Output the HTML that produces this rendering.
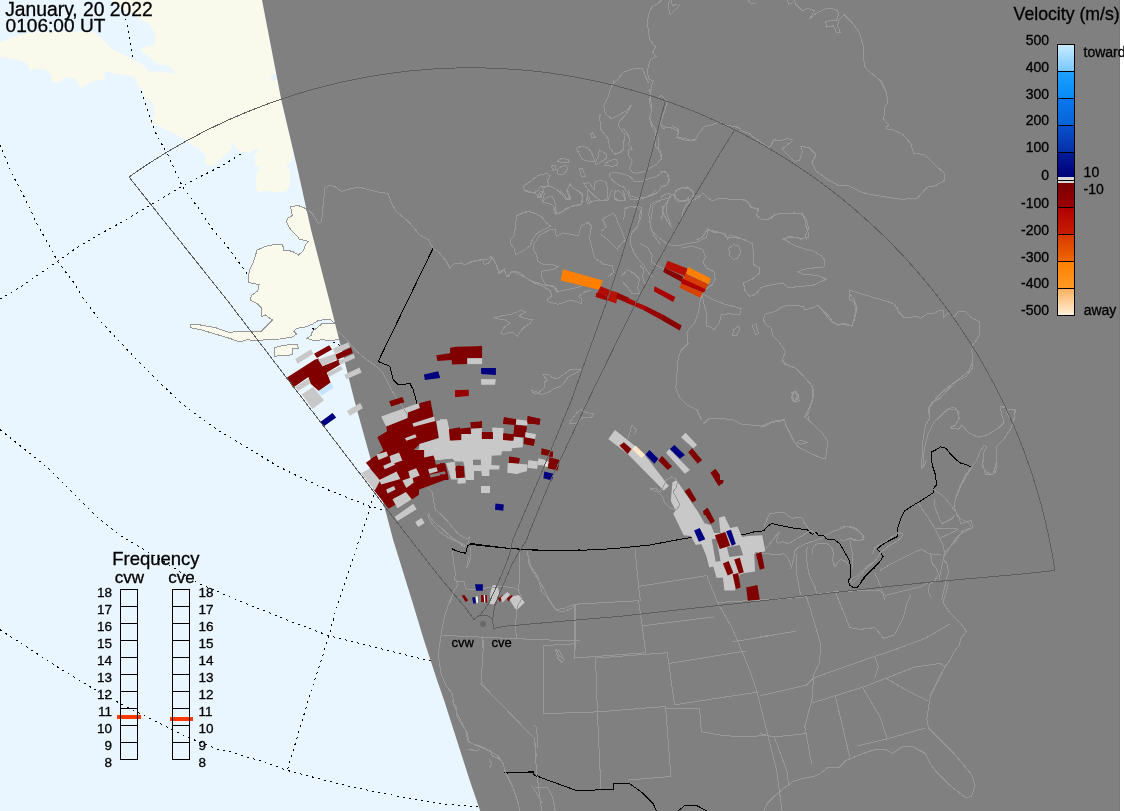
<!DOCTYPE html>
<html><head><meta charset="utf-8"><title>SuperDARN</title>
<style>
html,body{margin:0;padding:0;background:#eaf6ff;}
body{width:1124px;height:811px;overflow:hidden;}
svg{display:block;will-change:transform;}
text{font-family:'Liberation Sans',Arial,Helvetica,sans-serif;stroke:#000;stroke-width:0.3px;paint-order:stroke;}
</style></head><body>
<svg width="1124" height="811" viewBox="0 0 1124 811">
<rect x="0" y="0" width="1124" height="811" fill="#eaf6ff"/>
<polyline points="125.8,18.5 132.7,58.0 140.7,88.2 143.8,100.0 155.4,132.5 167.7,154.7 182.5,186.7 197.3,206.5 212.1,228.7 226.9,245.9 246.7,273.1 280.0,302.0 311.5,327.7 333.3,342.2 345.0,348.0" fill="none" stroke="#000" stroke-width="1" stroke-dasharray="2,4.2" shape-rendering="crispEdges"/>
<polyline points="0.0,299.0 24.7,284.2 49.3,266.9 74.0,249.6 98.7,234.8 123.3,221.3 148.0,206.5 172.7,191.7 197.3,178.1 222.0,165.8 241.7,153.4 262.0,142.0" fill="none" stroke="#000" stroke-width="1" stroke-dasharray="2,4.2" shape-rendering="crispEdges"/>
<polyline points="0.0,144.8 12.3,174.4 24.7,197.8 37.0,223.7 49.3,245.9 58.0,262.0 74.0,282.9 82.6,297.4 102.0,323.0 119.7,341.7 139.4,362.4 159.2,382.1 178.9,400.9 198.6,416.6 218.3,430.5 238.0,442.3 257.8,454.1 277.5,466.0 297.2,475.8 325.8,488.9 346.8,497.3 367.7,505.7 386.0,510.5" fill="none" stroke="#000" stroke-width="1" stroke-dasharray="2,4.2" shape-rendering="crispEdges"/>
<polyline points="0.0,429.6 24.1,448.9 48.2,468.2 72.3,492.3 96.4,516.4 120.5,535.7 144.6,550.1 168.7,564.6 195.0,581.7 216.7,591.0 230.0,597.1 260.9,609.5 291.9,621.9 329.0,635.8 353.8,642.0 384.7,649.7 415.6,657.5 433.0,661.0" fill="none" stroke="#000" stroke-width="1" stroke-dasharray="2,4.2" shape-rendering="crispEdges"/>
<polyline points="0.0,629.7 31.0,649.8 61.9,669.9 92.9,688.5 123.8,705.5 154.8,721.0 185.8,736.5 216.7,748.9 230.0,751.8 260.9,761.1 287.2,770.4 322.8,779.7 353.8,787.4 384.7,793.6 415.6,799.8 446.6,804.4 480.0,806.8" fill="none" stroke="#000" stroke-width="1" stroke-dasharray="2,4.2" shape-rendering="crispEdges"/>
<polyline points="378.0,483.0 374.0,495.2 363.5,527.7 352.2,560.0 344.5,584.8 335.2,612.6 329.0,635.8 319.7,665.2 310.4,693.0 301.2,724.0 287.2,770.4" fill="none" stroke="#000" stroke-width="1" stroke-dasharray="2,4.2" shape-rendering="crispEdges"/>
<polygon points="0.0,42.2 12.3,37.3 24.7,33.6 37.0,32.3 74.0,31.7 92.5,31.7 98.6,36.0 112.3,49.3 124.7,55.5 134.5,60.4 143.0,65.0 149.0,71.5 155.5,71.5 169.0,72.7 175.0,73.4 172.7,69.0 166.6,64.7 159.0,65.0 151.8,59.0 142.0,51.8 140.7,49.3 147.0,45.6 154.0,45.0 155.5,39.5 154.0,32.0 149.0,23.4 137.0,17.0 125.0,10.0 111.0,0.0 262.0,0.0 281.3,100.0 292.5,147.2 293.0,157.0 290.0,163.0 286.0,165.0 290.0,171.0 290.0,184.7 286.0,191.6 278.0,192.6 268.2,190.6 258.4,192.6 255.4,186.7 256.4,174.8 259.4,168.0 255.4,165.0 254.4,155.0 259.4,148.2 254.4,149.2 248.5,152.7 240.6,151.2 234.7,147.2 233.7,142.3 230.7,143.3 231.7,149.0 226.8,153.0 219.0,161.0 213.0,166.0 206.0,165.0 205.0,155.0 199.2,149.2 191.3,144.3 183.4,138.3 167.6,130.4 155.8,124.5 150.8,124.5 151.8,121.6 154.8,113.7 153.8,105.8 149.9,99.9 145.6,100.0 144.4,96.0 142.0,88.8 137.0,85.0 137.0,81.4 133.3,76.4 118.5,74.0 107.4,71.5 103.7,72.7 105.0,79.0 100.0,80.4 96.0,80.4 88.8,83.5 81.4,87.8 77.7,84.0 77.7,80.4 71.5,77.3 64.0,78.0 58.0,83.5 51.8,80.4 51.8,75.5 45.6,69.3 37.0,68.7 29.6,70.6 28.4,65.6 24.7,62.0 12.3,58.8 0.0,56.4" fill="#fafaec"/>
<ellipse cx="274" cy="77.5" rx="3" ry="3.5" fill="#eaf6ff"/>
<polygon points="290.5,206.6 298.4,205.6 306.0,208.6 318.0,230.0 338.0,300.0 342.0,322.7 333.7,322.7 330.9,319.9 326.6,319.2 318.0,320.6 312.4,324.2 305.3,327.0 296.7,328.4 293.9,331.3 296.7,334.0 292.5,337.0 279.6,339.0 265.4,339.8 258.3,340.5 246.9,339.8 239.8,342.0 229.8,338.4 215.6,334.1 201.4,329.9 190.0,327.7 190.7,324.2 199.9,324.9 215.6,327.7 229.8,332.7 237.0,331.3 248.3,331.3 261.1,331.3 265.4,327.0 272.5,320.0 265.4,315.0 261.9,316.3 261.9,308.5 256.9,303.5 250.5,300.0 251.2,295.7 253.0,294.4 258.0,290.5 259.0,284.6 249.0,282.6 248.0,276.7 250.0,268.8 253.0,262.9 255.0,257.0 257.0,250.0 266.8,246.0 276.7,244.0 282.6,244.0 283.6,250.0 287.5,250.0 293.4,252.0 298.4,255.0 303.3,251.0 305.3,245.0 308.2,241.2 299.4,239.2 296.4,235.2 290.5,229.3 286.5,222.4 287.5,218.5 292.4,215.5" fill="#fafaec" stroke="#989898" stroke-width="1" shape-rendering="crispEdges"/>
<polygon points="342.0,323.5 330.9,323.5 322.3,323.5 318.0,327.0 312.4,331.3 311.0,335.5 306.7,338.4 313.8,340.5 322.3,339.8 332.3,340.5 338.0,339.5 344.0,339.0" fill="#fafaec" stroke="#989898" stroke-width="1" shape-rendering="crispEdges"/>
<polygon points="274.7,347.7 279.6,346.2 288.2,344.8 297.4,344.1 298.2,348.4 292.5,349.0 292.5,354.8 282.5,355.5 274.7,356.2" fill="#fafaec" stroke="#989898" stroke-width="1" shape-rendering="crispEdges"/>
<polygon points="262.0,0.0 281.3,100.0 297.8,170.0 304.4,200.0 311.1,230.0 329.2,300.0 354.3,400.0 368.1,450.0 385.0,508.9 393.2,540.0 411.8,600.0 423.9,640.0 437.0,680.0 444.0,700.0 456.8,740.0 469.6,780.0 480.2,811.0 1124.0,811.0 1124.0,0.0" fill="#808080"/>
<polyline points="433.1,248.2 378.2,361.4 389.9,366.4 393.2,379.7 398.2,384.7 403.2,384.7 409.8,383.1 413.2,389.7 416.5,401.4 418.2,409.7" fill="none" stroke="#000000" stroke-width="1" stroke-linejoin="round" shape-rendering="crispEdges"/>
<polyline points="470.0,543.3 487.9,545.8 505.9,548.0 523.8,549.4 545.3,550.9 577.6,550.5 613.5,548.7 649.4,545.1 678.1,539.7 688.8,537.9" fill="none" stroke="#000000" stroke-width="1" stroke-linejoin="round" shape-rendering="crispEdges"/>
<polyline points="504.1,772.9 532.8,772.9 534.6,775.4 577.6,790.9 613.5,789.1 613.5,783.7 629.6,783.7 642.2,792.6 653.0,803.4 656.5,810.9" fill="none" stroke="#000000" stroke-width="1" stroke-linejoin="round" shape-rendering="crispEdges"/>
<polyline points="678.1,810.9 685.2,805.2 696.0,805.2 706.8,810.9" fill="none" stroke="#000000" stroke-width="1" stroke-linejoin="round" shape-rendering="crispEdges"/>
<polyline points="452.1,548.8 456.6,551.0 459.9,552.1 465.5,553.2 466.6,549.9 467.7,545.5 471.0,544.4 479.9,545.5 491.0,546.6 502.1,547.7 513.2,548.8 535.4,549.9 557.6,551.0 580.0,549.9" fill="none" stroke="#000000" stroke-width="1" stroke-linejoin="round" shape-rendering="crispEdges"/>
<polyline points="504.8,773.2 515.8,772.5 533.5,771.8 534.2,774.6 540.0,776.6" fill="none" stroke="#000000" stroke-width="1" stroke-linejoin="round" shape-rendering="crispEdges"/>
<polyline points="688.8,537.9 746.0,534.0 755.0,531.6" fill="none" stroke="#000000" stroke-width="1" stroke-linejoin="round" shape-rendering="crispEdges"/>
<polyline points="755.0,531.6 759.4,531.6 763.9,530.5 767.2,526.6 771.7,523.3 778.3,525.0 783.9,526.1 791.6,527.8 799.4,528.9 807.2,529.4 809.4,532.2 812.7,534.4 814.4,532.2 816.6,532.8 818.8,536.1 821.6,535.5 824.4,536.1 825.5,538.3 828.3,539.4 834.9,540.0 839.4,543.3 843.8,550.5 849.4,560.5 850.5,567.2 851.0,573.8 849.9,578.3 848.3,580.5 849.4,584.9 852.7,587.1 856.6,587.1 859.4,584.9 862.7,579.4 866.0,574.9 870.5,570.5 875.0,567.7" fill="none" stroke="#000000" stroke-width="1" stroke-linejoin="round" shape-rendering="crispEdges"/>
<polyline points="857.3,587.4 862.4,580.8 867.6,573.9 874.5,567.0 879.7,561.8 883.1,556.7 879.7,551.5 877.1,548.9 881.4,545.4 888.3,541.1 897.0,536.8 897.0,532.5 897.8,527.3 899.5,522.1 901.3,517.0 904.7,510.9 912.5,505.7 921.1,500.6 928.0,496.2 933.2,492.8 934.1,487.6 936.7,485.0 935.8,479.0 935.8,474.7 934.1,470.4 932.3,465.2 931.5,460.0" fill="none" stroke="#000000" stroke-width="1" stroke-linejoin="round" shape-rendering="crispEdges"/>
<polyline points="935.0,474.0 932.3,465.8 931.0,452.3 936.4,449.6 940.5,446.8 945.9,448.2 950.0,453.6 955.4,459.1 960.8,463.1 966.2,464.5 971.7,467.2" fill="none" stroke="#000000" stroke-width="1" stroke-linejoin="round" shape-rendering="crispEdges"/>
<polygon points="314.0,353.7 329.2,345.2 332.0,349.5 316.9,358.1" fill="#800000"/>
<polygon points="287.0,377.4 315.1,359.4 318.8,358.5 322.5,366.3 339.1,359.4 339.9,364.8 326.9,372.6 330.6,382.6 318.8,391.1 310.6,383.7 308.4,377.0 295.1,386.3 292.9,387.4" fill="#800000"/>
<polygon points="335.1,354.8 351.0,347.4 352.8,353.0 336.9,360.0" fill="#800000"/>
<polygon points="295.1,358.9 311.0,349.3 313.2,354.1 297.7,363.7" fill="#c8c8c8"/>
<polygon points="332.9,348.5 348.4,342.6 350.2,347.0 335.1,354.1" fill="#c8c8c8"/>
<polygon points="318.0,359.6 335.1,353.7 336.9,358.9 322.5,366.3" fill="#c8c8c8"/>
<polygon points="338.4,360.7 353.6,353.7 355.1,358.1 340.3,364.8" fill="#c8c8c8"/>
<polygon points="326.6,372.9 341.0,365.9 342.8,369.6 328.8,377.0" fill="#c8c8c8"/>
<polygon points="344.3,374.8 359.5,367.4 361.7,372.6 346.5,379.2" fill="#c8c8c8"/>
<polygon points="295.1,387.0 308.4,378.5 310.6,383.3 298.1,391.1" fill="#c8c8c8"/>
<polygon points="318.4,391.1 331.4,382.9 333.6,387.4 321.7,395.5" fill="#c4e4fc"/>
<polygon points="301.8,394.3 313.2,386.9 324.0,400.2 312.5,409.1" fill="#c8c8c8"/>
<polygon points="320.3,422.0 332.5,413.1 336.2,417.6 324.3,426.1" fill="#000080"/>
<polygon points="346.9,410.9 360.2,403.1 362.8,408.3 349.9,415.7" fill="#c8c8c8"/>
<polygon points="389.1,401.2 402.4,397.0 404.4,402.2 391.1,406.6" fill="#800000"/>
<polygon points="386.1,426.4 407.8,418.0 407.3,412.5 419.7,408.1 419.2,403.2 430.5,400.2 433.5,416.5 435.9,421.4 438.9,437.7 420.2,444.1 411.3,452.0 399.4,460.0 374.8,460.0 370.8,458.9 384.2,452.0 377.3,437.2 387.1,431.3" fill="#800000"/>
<polygon points="455.2,390.8 460.0,389.9 460.0,396.8 455.2,396.8" fill="#800000"/>
<polygon points="449.3,429.3 460.0,427.3 460.0,440.2 450.7,440.7" fill="#800000"/>
<polygon points="381.2,416.5 418.2,403.2 419.7,408.1 407.8,412.5 407.3,418.0 386.1,426.4" fill="#c8c8c8"/>
<polygon points="412.3,423.4 434.0,416.5 435.4,420.9 413.7,426.8" fill="#c8c8c8"/>
<polygon points="404.9,438.2 415.2,434.2 416.7,437.2 406.4,440.7" fill="#c8c8c8"/>
<polygon points="436.4,420.9 446.8,419.3 449.3,429.3 450.7,440.7 460.0,440.2 460.0,460.0 423.1,460.0 423.1,456.9 411.3,453.0 419.2,449.0 419.2,444.1 438.9,438.2" fill="#c8c8c8"/>
<polygon points="365.9,462.8 383.7,450.0 424.1,450.0 424.1,457.4 433.5,455.4 435.9,462.8 444.8,462.8 446.8,469.7 447.8,474.2 448.8,478.6 419.2,489.4 418.7,494.9 412.3,499.3 394.5,505.2 388.6,508.7 373.8,489.9 369.9,467.8" fill="#800000"/>
<polygon points="376.3,454.4 386.6,451.5 388.1,455.9 378.7,459.9" fill="#c8c8c8"/>
<polygon points="389.6,455.9 399.0,452.5 402.4,460.4 391.6,464.3" fill="#c8c8c8"/>
<polygon points="383.2,465.8 393.5,461.3 395.0,464.8 384.7,469.2" fill="#c8c8c8"/>
<polygon points="361.0,473.2 369.9,468.2 380.2,480.6 374.8,490.4" fill="#c8c8c8"/>
<polygon points="379.2,480.1 396.5,471.5 400.4,479.1 381.2,484.5" fill="#c8c8c8"/>
<polygon points="386.1,489.4 394.0,486.0 395.5,489.4 387.6,493.4" fill="#c8c8c8"/>
<polygon points="392.5,499.3 405.9,491.9 411.8,499.3 397.5,508.2" fill="#c8c8c8"/>
<polygon points="408.3,471.2 416.2,468.2 419.7,475.6 410.3,479.1" fill="#c8c8c8"/>
<polygon points="402.4,480.6 412.3,477.1 413.7,482.5 406.4,488.0" fill="#c8c8c8"/>
<polygon points="428.0,469.2 436.4,467.3 437.9,471.2 429.5,473.7" fill="#c8c8c8"/>
<polygon points="446.3,463.3 454.7,461.8 457.1,479.6 451.2,479.6" fill="#c8c8c8"/>
<polygon points="394.5,517.1 413.3,503.7 416.7,509.2 397.5,521.0" fill="#c8c8c8"/>
<polygon points="415.2,522.0 421.6,518.0 424.6,523.0 418.2,526.9" fill="#c8c8c8"/>
<polygon points="455.2,466.3 460.0,465.3 460.0,477.6 457.1,478.1" fill="#800000"/>
<polygon points="435.0,460.8 452.7,457.9 453.7,461.3 435.9,464.8" fill="#808080"/>
<polygon points="429.5,474.7 444.8,471.2 445.8,474.2 430.5,477.6" fill="#808080"/>
<polygon points="440.0,419.2 446.9,419.2 448.9,429.6 449.9,440.4 461.2,439.9 461.2,434.0 471.1,434.0 471.1,428.6 481.9,428.1 481.9,439.0 492.3,439.0 492.3,427.6 503.6,428.1 503.1,439.9 513.5,440.4 514.0,436.5 522.8,438.0 522.8,447.3 512.0,448.3 511.5,451.3 502.1,451.3 501.1,455.2 491.8,455.7 491.3,465.1 499.7,465.6 499.2,469.5 489.3,469.5 489.3,475.9 481.9,475.9 481.4,471.0 474.0,471.0 474.0,480.0 465.6,480.0 464.7,467.1 463.2,461.6 454.8,461.6 453.3,458.7 440.0,459.2" fill="#c8c8c8"/>
<polygon points="473.0,459.7 480.9,459.7 480.9,465.1 473.0,465.1" fill="#808080"/>
<polygon points="448.9,429.6 470.6,427.6 471.1,434.0 461.2,434.0 461.2,439.9 449.9,440.4" fill="#800000"/>
<polygon points="470.1,422.2 481.9,421.2 481.9,428.1 471.1,428.6" fill="#800000"/>
<polygon points="481.9,432.1 492.3,432.1 492.8,439.0 481.9,439.0" fill="#800000"/>
<polygon points="504.1,417.3 515.9,419.2 515.4,424.7 503.1,423.7" fill="#800000"/>
<polygon points="515.0,425.1 526.8,426.1 525.8,437.5 513.5,436.5" fill="#800000"/>
<polygon points="503.1,433.5 514.0,434.5 513.0,440.4 503.1,439.9" fill="#800000"/>
<polygon points="527.8,416.3 540.0,418.7 540.0,424.2 527.3,423.7" fill="#800000"/>
<polygon points="524.3,437.0 534.7,439.4 533.7,445.9 523.8,443.9" fill="#800000"/>
<polygon points="509.0,456.7 519.9,458.2 518.9,463.6 509.0,463.1" fill="#800000"/>
<polygon points="440.0,463.1 445.4,464.1 445.9,469.0 440.0,470.0" fill="#800000"/>
<polygon points="440.0,474.5 447.4,474.0 448.4,480.0 440.0,480.0" fill="#800000"/>
<polygon points="455.3,466.1 463.7,466.1 464.7,477.4 456.3,477.9" fill="#800000"/>
<polygon points="516.4,419.2 527.3,420.7 526.8,425.1 515.9,424.2" fill="#c8c8c8"/>
<polygon points="525.8,432.5 535.7,434.0 535.2,438.5 525.3,437.0" fill="#c8c8c8"/>
<polygon points="508.0,463.1 527.3,464.6 526.8,471.0 516.4,474.0 508.0,472.5" fill="#c8c8c8"/>
<polygon points="528.8,460.2 537.6,461.6 537.1,468.5 528.3,468.0" fill="#c8c8c8"/>
<polygon points="445.9,463.1 454.3,462.1 455.8,468.0 448.9,469.0" fill="#c8c8c8"/>
<polygon points="481.1,486.1 490.0,486.1 490.0,493.0 481.1,493.0" fill="#c8c8c8"/>
<polygon points="495.4,503.4 503.8,504.4 503.3,510.8 495.0,509.8" fill="#000080"/>
<polygon points="457.5,478.2 465.4,477.8 465.9,483.2 457.5,483.7" fill="#c8c8c8"/>
<polygon points="436.3,355.2 450.1,353.2 450.1,347.8 456.0,346.8 476.2,346.3 482.1,345.8 482.1,358.2 467.3,358.2 467.3,364.1 452.1,364.6 451.6,360.1 437.3,361.1" fill="#800000"/>
<polygon points="467.3,358.2 482.1,358.2 482.1,364.1 467.3,364.1" fill="#c8c8c8"/>
<polygon points="423.9,374.4 438.2,371.3 440.2,377.9 424.9,379.9" fill="#000080"/>
<polygon points="481.1,368.0 495.9,368.0 495.9,374.9 481.1,374.0" fill="#000080"/>
<polygon points="481.1,378.9 495.9,379.2 495.0,384.8 481.1,384.8" fill="#c8c8c8"/>
<polygon points="455.0,390.2 468.8,389.7 468.8,396.1 455.0,396.9" fill="#9a0000"/>
<polygon points="503.9,417.2 516.6,419.4 515.5,425.0 503.3,423.9" fill="#800000"/>
<polygon points="516.6,419.4 527.7,421.6 527.2,425.5 516.1,424.4" fill="#c8c8c8"/>
<polygon points="527.7,416.1 540.5,418.9 539.4,425.0 527.2,422.8" fill="#800000"/>
<polygon points="514.4,425.0 526.6,426.6 524.9,437.2 513.3,436.1" fill="#800000"/>
<polygon points="525.5,432.2 535.5,434.4 534.9,438.8 524.9,437.2" fill="#c8c8c8"/>
<polygon points="524.4,437.2 534.9,439.4 533.8,445.5 523.8,443.8" fill="#800000"/>
<polygon points="503.9,433.3 513.8,434.4 513.3,440.5 503.3,440.0" fill="#800000"/>
<polygon points="482.2,432.2 492.8,432.2 492.8,438.8 482.2,438.8" fill="#800000"/>
<polygon points="480.0,421.1 481.7,421.1 481.7,427.7 480.0,427.7" fill="#800000"/>
<polygon points="509.4,456.6 519.4,458.3 518.8,463.8 508.9,462.7" fill="#800000"/>
<polygon points="507.7,463.3 518.8,463.8 518.3,473.8 507.2,472.7" fill="#c8c8c8"/>
<polygon points="518.8,463.8 527.7,465.5 526.6,471.6 518.3,470.5" fill="#c8c8c8"/>
<polygon points="528.3,460.5 537.7,461.6 537.2,468.8 527.7,467.7" fill="#c8c8c8"/>
<polygon points="538.3,458.3 545.5,459.9 544.9,465.5 537.7,464.9" fill="#c8c8c8"/>
<polygon points="545.5,461.0 549.4,461.6 548.2,467.1 544.9,466.6" fill="#e0e0e0"/>
<polygon points="541.6,448.3 550.5,450.5 549.4,456.0 541.0,454.4" fill="#800000"/>
<polygon points="549.4,451.1 553.2,451.6 552.7,457.2 548.8,456.6" fill="#800000"/>
<polygon points="549.4,457.2 559.9,459.9 557.7,470.5 547.7,468.3" fill="#800000"/>
<polygon points="544.4,471.6 553.2,473.8 552.1,480.5 543.3,478.2" fill="#000080"/>
<polygon points="481.1,486.0 490.0,486.0 490.0,492.7 481.1,492.7" fill="#c8c8c8"/>
<polygon points="562.8,269.2 602.7,280.6 599.8,289.9 560.7,280.6" fill="#ff7f00"/>
<polygon points="600.6,286.3 609.8,289.9 608.4,296.3 597.0,293.4" fill="#b00c00"/>
<polygon points="596.3,292.7 607.7,296.3 607.0,300.6 595.6,297.0" fill="#a80000"/>
<polygon points="609.8,289.9 618.3,292.7 616.2,303.4 607.7,300.6" fill="#b81400"/>
<polygon points="617.6,292.7 629.0,297.7 626.9,302.7 616.2,298.4" fill="#990000"/>
<polygon points="627.6,297.7 636.9,302.0 634.7,306.2 626.2,302.7" fill="#aa0000"/>
<polygon points="636.1,302.0 646.1,306.2 644.7,310.5 634.7,306.2" fill="#b00000"/>
<polygon points="646.1,306.2 663.2,314.8 661.0,319.8 644.0,310.5" fill="#990000"/>
<polygon points="663.2,314.8 681.7,325.5 679.6,330.4 661.0,319.8" fill="#880000"/>
<polygon points="667.5,260.7 687.4,268.5 686.0,276.4 664.6,267.8" fill="#b81000"/>
<polygon points="664.6,267.8 683.1,276.4 681.7,282.0 663.2,272.1" fill="#880000"/>
<polygon points="688.1,267.1 710.9,278.5 708.7,284.2 686.0,273.5" fill="#ff8000"/>
<polygon points="685.2,273.5 708.0,284.2 705.9,289.2 683.1,279.2" fill="#d83c00"/>
<polygon points="682.4,278.5 705.9,289.2 703.8,292.7 681.0,283.5" fill="#b00000"/>
<polygon points="681.0,283.5 703.0,292.7 700.2,297.7 679.6,287.7" fill="#d84000"/>
<polygon points="654.6,286.3 675.3,297.0 673.1,302.0 653.9,291.3" fill="#aa0000"/>
<polygon points="608.3,438.9 615.0,430.0 634.4,445.5 644.4,454.4 668.8,486.0 663.8,490.5 627.7,453.9" fill="#c8c8c8"/>
<polygon points="619.4,445.5 623.9,442.2 631.6,448.9 627.7,453.9" fill="#800000"/>
<polygon points="632.2,448.9 635.5,445.5 644.9,454.4 641.6,458.3" fill="#ffe8c8"/>
<polygon points="645.5,454.4 649.4,450.0 658.3,458.8 654.4,463.8" fill="#000080"/>
<polygon points="658.3,460.5 662.1,456.1 672.1,466.6 667.7,469.9" fill="#800000"/>
<polygon points="666.0,452.7 669.4,448.9 689.9,469.9 684.9,473.8" fill="#c8c8c8"/>
<polygon points="669.9,448.9 674.4,445.0 684.9,455.0 679.9,458.8" fill="#000080"/>
<polygon points="681.0,437.2 685.5,432.8 697.1,445.0 693.2,448.3" fill="#c8c8c8"/>
<polygon points="688.2,452.2 692.1,448.3 702.1,460.0 697.7,463.8" fill="#800000"/>
<polygon points="710.4,472.7 715.4,468.8 720.0,474.9 720.0,485.5 718.7,486.0" fill="#800000"/>
<polygon points="703.2,511.6 707.1,507.7 711.0,513.8 709.9,515.0 703.8,515.0" fill="#800000"/>
<polygon points="655.6,480.0 662.0,480.0 666.8,486.4 662.8,489.6" fill="#c8c8c8"/>
<polygon points="672.4,482.4 676.5,480.0 684.5,492.0 698.1,512.1 704.5,523.3 710.9,524.9 714.1,532.9 720.5,532.9 718.9,517.7 724.5,516.1 730.2,528.1 737.4,526.5 742.2,536.9 747.8,536.1 762.2,535.3 765.4,551.3 754.2,553.7 755.0,571.4 744.6,573.0 739.8,574.6 735.0,590.6 724.5,590.6 722.9,577.8 716.5,577.8 713.3,566.6 709.3,567.4 706.1,555.3 701.3,544.1 695.7,544.9 690.9,536.1 683.7,535.3 673.2,513.7 675.6,510.5 670.8,500.8" fill="#c8c8c8"/>
<polygon points="711.7,539.3 716.5,538.5 720.5,561.0 715.7,561.8" fill="#808080"/>
<polygon points="726.9,547.3 739.8,544.9 743.0,555.3 729.4,556.9" fill="#808080"/>
<polygon points="684.5,491.2 689.3,488.0 696.5,500.0 692.5,502.4" fill="#800000"/>
<polygon points="702.9,511.3 707.7,508.1 714.9,520.9 710.9,524.1" fill="#800000"/>
<polygon points="714.9,480.0 723.7,480.0 722.9,483.2 718.9,485.6" fill="#800000"/>
<polygon points="714.9,535.3 725.3,532.1 730.2,545.7 719.7,548.9" fill="#800000"/>
<polygon points="755.8,553.7 761.4,552.1 764.6,568.2 759.8,569.8" fill="#800000"/>
<polygon points="722.9,563.4 728.6,561.0 733.4,573.0 727.7,575.4" fill="#800000"/>
<polygon points="734.2,559.4 739.8,557.7 743.8,572.2 739.0,573.8" fill="#800000"/>
<polygon points="732.6,574.6 738.2,573.0 740.6,587.4 735.8,589.0" fill="#800000"/>
<polygon points="746.2,587.4 757.4,585.0 759.8,599.4 747.8,601.0" fill="#800000"/>
<polygon points="694.1,530.5 699.7,528.1 705.3,539.3 698.9,541.7" fill="#000080"/>
<polygon points="726.1,531.3 731.0,529.7 735.8,544.1 731.8,545.7" fill="#000080"/>
<polygon points="475.1,584.2 482.9,584.2 482.9,590.7 476.0,590.7" fill="#000080"/>
<polygon points="461.7,595.5 464.3,595.0 468.2,600.2 465.6,601.9" fill="#800000"/>
<polygon points="475.5,596.8 477.7,596.3 478.1,602.8 476.4,603.2" fill="#f0f0f0"/>
<polygon points="472.1,597.6 475.1,596.9 476.0,603.2 473.4,603.7" fill="#000080"/>
<polygon points="481.1,595.0 483.7,595.0 484.2,601.9 481.1,601.9" fill="#800000"/>
<polygon points="483.7,595.0 485.2,595.0 485.5,602.6 484.2,602.6" fill="#f0f0f0"/>
<polygon points="485.2,595.0 486.8,595.0 487.2,602.8 485.5,602.8" fill="#800000"/>
<polygon points="490.2,593.3 492.4,585.5 495.0,585.1 498.0,587.7 499.3,592.9 494.5,604.5 489.8,604.1" fill="#c8c8c8"/>
<polygon points="498.0,598.5 502.7,595.0 504.0,596.3 499.7,601.9" fill="#800000"/>
<polygon points="494.1,605.0 496.3,601.1 497.1,601.5 495.4,605.6" fill="#800000"/>
<polygon points="500.6,597.6 507.5,592.0 510.1,594.6 502.7,602.4" fill="#c8c8c8"/>
<polygon points="507.0,598.5 511.4,595.0 513.1,596.3 508.3,601.5" fill="#800000"/>
<polygon points="509.6,599.8 512.6,596.3 518.7,595.0 524.7,602.4 517.0,610.1 514.8,608.0" fill="#c8c8c8"/>
<mask id="cm" maskUnits="userSpaceOnUse" x="0" y="0" width="1124" height="811"><rect x="0" y="0" width="1124" height="811" fill="#fff"/><polygon points="314.0,353.7 329.2,345.2 332.0,349.5 316.9,358.1" fill="#000"/>
<polygon points="287.0,377.4 315.1,359.4 318.8,358.5 322.5,366.3 339.1,359.4 339.9,364.8 326.9,372.6 330.6,382.6 318.8,391.1 310.6,383.7 308.4,377.0 295.1,386.3 292.9,387.4" fill="#000"/>
<polygon points="335.1,354.8 351.0,347.4 352.8,353.0 336.9,360.0" fill="#000"/>
<polygon points="295.1,358.9 311.0,349.3 313.2,354.1 297.7,363.7" fill="#fff"/>
<polygon points="332.9,348.5 348.4,342.6 350.2,347.0 335.1,354.1" fill="#fff"/>
<polygon points="318.0,359.6 335.1,353.7 336.9,358.9 322.5,366.3" fill="#fff"/>
<polygon points="338.4,360.7 353.6,353.7 355.1,358.1 340.3,364.8" fill="#fff"/>
<polygon points="326.6,372.9 341.0,365.9 342.8,369.6 328.8,377.0" fill="#fff"/>
<polygon points="344.3,374.8 359.5,367.4 361.7,372.6 346.5,379.2" fill="#fff"/>
<polygon points="295.1,387.0 308.4,378.5 310.6,383.3 298.1,391.1" fill="#fff"/>
<polygon points="318.4,391.1 331.4,382.9 333.6,387.4 321.7,395.5" fill="#000"/>
<polygon points="301.8,394.3 313.2,386.9 324.0,400.2 312.5,409.1" fill="#fff"/>
<polygon points="320.3,422.0 332.5,413.1 336.2,417.6 324.3,426.1" fill="#000"/>
<polygon points="346.9,410.9 360.2,403.1 362.8,408.3 349.9,415.7" fill="#fff"/>
<polygon points="389.1,401.2 402.4,397.0 404.4,402.2 391.1,406.6" fill="#000"/>
<polygon points="386.1,426.4 407.8,418.0 407.3,412.5 419.7,408.1 419.2,403.2 430.5,400.2 433.5,416.5 435.9,421.4 438.9,437.7 420.2,444.1 411.3,452.0 399.4,460.0 374.8,460.0 370.8,458.9 384.2,452.0 377.3,437.2 387.1,431.3" fill="#000"/>
<polygon points="455.2,390.8 460.0,389.9 460.0,396.8 455.2,396.8" fill="#000"/>
<polygon points="449.3,429.3 460.0,427.3 460.0,440.2 450.7,440.7" fill="#000"/>
<polygon points="381.2,416.5 418.2,403.2 419.7,408.1 407.8,412.5 407.3,418.0 386.1,426.4" fill="#fff"/>
<polygon points="412.3,423.4 434.0,416.5 435.4,420.9 413.7,426.8" fill="#fff"/>
<polygon points="404.9,438.2 415.2,434.2 416.7,437.2 406.4,440.7" fill="#fff"/>
<polygon points="436.4,420.9 446.8,419.3 449.3,429.3 450.7,440.7 460.0,440.2 460.0,460.0 423.1,460.0 423.1,456.9 411.3,453.0 419.2,449.0 419.2,444.1 438.9,438.2" fill="#fff"/>
<polygon points="365.9,462.8 383.7,450.0 424.1,450.0 424.1,457.4 433.5,455.4 435.9,462.8 444.8,462.8 446.8,469.7 447.8,474.2 448.8,478.6 419.2,489.4 418.7,494.9 412.3,499.3 394.5,505.2 388.6,508.7 373.8,489.9 369.9,467.8" fill="#000"/>
<polygon points="376.3,454.4 386.6,451.5 388.1,455.9 378.7,459.9" fill="#fff"/>
<polygon points="389.6,455.9 399.0,452.5 402.4,460.4 391.6,464.3" fill="#fff"/>
<polygon points="383.2,465.8 393.5,461.3 395.0,464.8 384.7,469.2" fill="#fff"/>
<polygon points="361.0,473.2 369.9,468.2 380.2,480.6 374.8,490.4" fill="#fff"/>
<polygon points="379.2,480.1 396.5,471.5 400.4,479.1 381.2,484.5" fill="#fff"/>
<polygon points="386.1,489.4 394.0,486.0 395.5,489.4 387.6,493.4" fill="#fff"/>
<polygon points="392.5,499.3 405.9,491.9 411.8,499.3 397.5,508.2" fill="#fff"/>
<polygon points="408.3,471.2 416.2,468.2 419.7,475.6 410.3,479.1" fill="#fff"/>
<polygon points="402.4,480.6 412.3,477.1 413.7,482.5 406.4,488.0" fill="#fff"/>
<polygon points="428.0,469.2 436.4,467.3 437.9,471.2 429.5,473.7" fill="#fff"/>
<polygon points="446.3,463.3 454.7,461.8 457.1,479.6 451.2,479.6" fill="#fff"/>
<polygon points="394.5,517.1 413.3,503.7 416.7,509.2 397.5,521.0" fill="#fff"/>
<polygon points="415.2,522.0 421.6,518.0 424.6,523.0 418.2,526.9" fill="#fff"/>
<polygon points="455.2,466.3 460.0,465.3 460.0,477.6 457.1,478.1" fill="#000"/>
<polygon points="435.0,460.8 452.7,457.9 453.7,461.3 435.9,464.8" fill="#fff"/>
<polygon points="429.5,474.7 444.8,471.2 445.8,474.2 430.5,477.6" fill="#fff"/>
<polygon points="440.0,419.2 446.9,419.2 448.9,429.6 449.9,440.4 461.2,439.9 461.2,434.0 471.1,434.0 471.1,428.6 481.9,428.1 481.9,439.0 492.3,439.0 492.3,427.6 503.6,428.1 503.1,439.9 513.5,440.4 514.0,436.5 522.8,438.0 522.8,447.3 512.0,448.3 511.5,451.3 502.1,451.3 501.1,455.2 491.8,455.7 491.3,465.1 499.7,465.6 499.2,469.5 489.3,469.5 489.3,475.9 481.9,475.9 481.4,471.0 474.0,471.0 474.0,480.0 465.6,480.0 464.7,467.1 463.2,461.6 454.8,461.6 453.3,458.7 440.0,459.2" fill="#fff"/>
<polygon points="473.0,459.7 480.9,459.7 480.9,465.1 473.0,465.1" fill="#fff"/>
<polygon points="448.9,429.6 470.6,427.6 471.1,434.0 461.2,434.0 461.2,439.9 449.9,440.4" fill="#000"/>
<polygon points="470.1,422.2 481.9,421.2 481.9,428.1 471.1,428.6" fill="#000"/>
<polygon points="481.9,432.1 492.3,432.1 492.8,439.0 481.9,439.0" fill="#000"/>
<polygon points="504.1,417.3 515.9,419.2 515.4,424.7 503.1,423.7" fill="#000"/>
<polygon points="515.0,425.1 526.8,426.1 525.8,437.5 513.5,436.5" fill="#000"/>
<polygon points="503.1,433.5 514.0,434.5 513.0,440.4 503.1,439.9" fill="#000"/>
<polygon points="527.8,416.3 540.0,418.7 540.0,424.2 527.3,423.7" fill="#000"/>
<polygon points="524.3,437.0 534.7,439.4 533.7,445.9 523.8,443.9" fill="#000"/>
<polygon points="509.0,456.7 519.9,458.2 518.9,463.6 509.0,463.1" fill="#000"/>
<polygon points="440.0,463.1 445.4,464.1 445.9,469.0 440.0,470.0" fill="#000"/>
<polygon points="440.0,474.5 447.4,474.0 448.4,480.0 440.0,480.0" fill="#000"/>
<polygon points="455.3,466.1 463.7,466.1 464.7,477.4 456.3,477.9" fill="#000"/>
<polygon points="516.4,419.2 527.3,420.7 526.8,425.1 515.9,424.2" fill="#fff"/>
<polygon points="525.8,432.5 535.7,434.0 535.2,438.5 525.3,437.0" fill="#fff"/>
<polygon points="508.0,463.1 527.3,464.6 526.8,471.0 516.4,474.0 508.0,472.5" fill="#fff"/>
<polygon points="528.8,460.2 537.6,461.6 537.1,468.5 528.3,468.0" fill="#fff"/>
<polygon points="445.9,463.1 454.3,462.1 455.8,468.0 448.9,469.0" fill="#fff"/>
<polygon points="481.1,486.1 490.0,486.1 490.0,493.0 481.1,493.0" fill="#fff"/>
<polygon points="495.4,503.4 503.8,504.4 503.3,510.8 495.0,509.8" fill="#000"/>
<polygon points="457.5,478.2 465.4,477.8 465.9,483.2 457.5,483.7" fill="#fff"/>
<polygon points="436.3,355.2 450.1,353.2 450.1,347.8 456.0,346.8 476.2,346.3 482.1,345.8 482.1,358.2 467.3,358.2 467.3,364.1 452.1,364.6 451.6,360.1 437.3,361.1" fill="#000"/>
<polygon points="467.3,358.2 482.1,358.2 482.1,364.1 467.3,364.1" fill="#fff"/>
<polygon points="423.9,374.4 438.2,371.3 440.2,377.9 424.9,379.9" fill="#000"/>
<polygon points="481.1,368.0 495.9,368.0 495.9,374.9 481.1,374.0" fill="#000"/>
<polygon points="481.1,378.9 495.9,379.2 495.0,384.8 481.1,384.8" fill="#fff"/>
<polygon points="455.0,390.2 468.8,389.7 468.8,396.1 455.0,396.9" fill="#000"/>
<polygon points="503.9,417.2 516.6,419.4 515.5,425.0 503.3,423.9" fill="#000"/>
<polygon points="516.6,419.4 527.7,421.6 527.2,425.5 516.1,424.4" fill="#fff"/>
<polygon points="527.7,416.1 540.5,418.9 539.4,425.0 527.2,422.8" fill="#000"/>
<polygon points="514.4,425.0 526.6,426.6 524.9,437.2 513.3,436.1" fill="#000"/>
<polygon points="525.5,432.2 535.5,434.4 534.9,438.8 524.9,437.2" fill="#fff"/>
<polygon points="524.4,437.2 534.9,439.4 533.8,445.5 523.8,443.8" fill="#000"/>
<polygon points="503.9,433.3 513.8,434.4 513.3,440.5 503.3,440.0" fill="#000"/>
<polygon points="482.2,432.2 492.8,432.2 492.8,438.8 482.2,438.8" fill="#000"/>
<polygon points="480.0,421.1 481.7,421.1 481.7,427.7 480.0,427.7" fill="#000"/>
<polygon points="509.4,456.6 519.4,458.3 518.8,463.8 508.9,462.7" fill="#000"/>
<polygon points="507.7,463.3 518.8,463.8 518.3,473.8 507.2,472.7" fill="#fff"/>
<polygon points="518.8,463.8 527.7,465.5 526.6,471.6 518.3,470.5" fill="#fff"/>
<polygon points="528.3,460.5 537.7,461.6 537.2,468.8 527.7,467.7" fill="#fff"/>
<polygon points="538.3,458.3 545.5,459.9 544.9,465.5 537.7,464.9" fill="#fff"/>
<polygon points="545.5,461.0 549.4,461.6 548.2,467.1 544.9,466.6" fill="#fff"/>
<polygon points="541.6,448.3 550.5,450.5 549.4,456.0 541.0,454.4" fill="#000"/>
<polygon points="549.4,451.1 553.2,451.6 552.7,457.2 548.8,456.6" fill="#000"/>
<polygon points="549.4,457.2 559.9,459.9 557.7,470.5 547.7,468.3" fill="#000"/>
<polygon points="544.4,471.6 553.2,473.8 552.1,480.5 543.3,478.2" fill="#000"/>
<polygon points="481.1,486.0 490.0,486.0 490.0,492.7 481.1,492.7" fill="#fff"/>
<polygon points="562.8,269.2 602.7,280.6 599.8,289.9 560.7,280.6" fill="#000"/>
<polygon points="600.6,286.3 609.8,289.9 608.4,296.3 597.0,293.4" fill="#000"/>
<polygon points="596.3,292.7 607.7,296.3 607.0,300.6 595.6,297.0" fill="#000"/>
<polygon points="609.8,289.9 618.3,292.7 616.2,303.4 607.7,300.6" fill="#000"/>
<polygon points="617.6,292.7 629.0,297.7 626.9,302.7 616.2,298.4" fill="#000"/>
<polygon points="627.6,297.7 636.9,302.0 634.7,306.2 626.2,302.7" fill="#000"/>
<polygon points="636.1,302.0 646.1,306.2 644.7,310.5 634.7,306.2" fill="#000"/>
<polygon points="646.1,306.2 663.2,314.8 661.0,319.8 644.0,310.5" fill="#000"/>
<polygon points="663.2,314.8 681.7,325.5 679.6,330.4 661.0,319.8" fill="#000"/>
<polygon points="667.5,260.7 687.4,268.5 686.0,276.4 664.6,267.8" fill="#000"/>
<polygon points="664.6,267.8 683.1,276.4 681.7,282.0 663.2,272.1" fill="#000"/>
<polygon points="688.1,267.1 710.9,278.5 708.7,284.2 686.0,273.5" fill="#000"/>
<polygon points="685.2,273.5 708.0,284.2 705.9,289.2 683.1,279.2" fill="#000"/>
<polygon points="682.4,278.5 705.9,289.2 703.8,292.7 681.0,283.5" fill="#000"/>
<polygon points="681.0,283.5 703.0,292.7 700.2,297.7 679.6,287.7" fill="#000"/>
<polygon points="654.6,286.3 675.3,297.0 673.1,302.0 653.9,291.3" fill="#000"/>
<polygon points="608.3,438.9 615.0,430.0 634.4,445.5 644.4,454.4 668.8,486.0 663.8,490.5 627.7,453.9" fill="#fff"/>
<polygon points="619.4,445.5 623.9,442.2 631.6,448.9 627.7,453.9" fill="#000"/>
<polygon points="632.2,448.9 635.5,445.5 644.9,454.4 641.6,458.3" fill="#000"/>
<polygon points="645.5,454.4 649.4,450.0 658.3,458.8 654.4,463.8" fill="#000"/>
<polygon points="658.3,460.5 662.1,456.1 672.1,466.6 667.7,469.9" fill="#000"/>
<polygon points="666.0,452.7 669.4,448.9 689.9,469.9 684.9,473.8" fill="#fff"/>
<polygon points="669.9,448.9 674.4,445.0 684.9,455.0 679.9,458.8" fill="#000"/>
<polygon points="681.0,437.2 685.5,432.8 697.1,445.0 693.2,448.3" fill="#fff"/>
<polygon points="688.2,452.2 692.1,448.3 702.1,460.0 697.7,463.8" fill="#000"/>
<polygon points="710.4,472.7 715.4,468.8 720.0,474.9 720.0,485.5 718.7,486.0" fill="#000"/>
<polygon points="703.2,511.6 707.1,507.7 711.0,513.8 709.9,515.0 703.8,515.0" fill="#000"/>
<polygon points="655.6,480.0 662.0,480.0 666.8,486.4 662.8,489.6" fill="#fff"/>
<polygon points="672.4,482.4 676.5,480.0 684.5,492.0 698.1,512.1 704.5,523.3 710.9,524.9 714.1,532.9 720.5,532.9 718.9,517.7 724.5,516.1 730.2,528.1 737.4,526.5 742.2,536.9 747.8,536.1 762.2,535.3 765.4,551.3 754.2,553.7 755.0,571.4 744.6,573.0 739.8,574.6 735.0,590.6 724.5,590.6 722.9,577.8 716.5,577.8 713.3,566.6 709.3,567.4 706.1,555.3 701.3,544.1 695.7,544.9 690.9,536.1 683.7,535.3 673.2,513.7 675.6,510.5 670.8,500.8" fill="#fff"/>
<polygon points="711.7,539.3 716.5,538.5 720.5,561.0 715.7,561.8" fill="#fff"/>
<polygon points="726.9,547.3 739.8,544.9 743.0,555.3 729.4,556.9" fill="#fff"/>
<polygon points="684.5,491.2 689.3,488.0 696.5,500.0 692.5,502.4" fill="#000"/>
<polygon points="702.9,511.3 707.7,508.1 714.9,520.9 710.9,524.1" fill="#000"/>
<polygon points="714.9,480.0 723.7,480.0 722.9,483.2 718.9,485.6" fill="#000"/>
<polygon points="714.9,535.3 725.3,532.1 730.2,545.7 719.7,548.9" fill="#000"/>
<polygon points="755.8,553.7 761.4,552.1 764.6,568.2 759.8,569.8" fill="#000"/>
<polygon points="722.9,563.4 728.6,561.0 733.4,573.0 727.7,575.4" fill="#000"/>
<polygon points="734.2,559.4 739.8,557.7 743.8,572.2 739.0,573.8" fill="#000"/>
<polygon points="732.6,574.6 738.2,573.0 740.6,587.4 735.8,589.0" fill="#000"/>
<polygon points="746.2,587.4 757.4,585.0 759.8,599.4 747.8,601.0" fill="#000"/>
<polygon points="694.1,530.5 699.7,528.1 705.3,539.3 698.9,541.7" fill="#000"/>
<polygon points="726.1,531.3 731.0,529.7 735.8,544.1 731.8,545.7" fill="#000"/>
<polygon points="475.1,584.2 482.9,584.2 482.9,590.7 476.0,590.7" fill="#000"/>
<polygon points="461.7,595.5 464.3,595.0 468.2,600.2 465.6,601.9" fill="#000"/>
<polygon points="475.5,596.8 477.7,596.3 478.1,602.8 476.4,603.2" fill="#000"/>
<polygon points="472.1,597.6 475.1,596.9 476.0,603.2 473.4,603.7" fill="#000"/>
<polygon points="481.1,595.0 483.7,595.0 484.2,601.9 481.1,601.9" fill="#000"/>
<polygon points="483.7,595.0 485.2,595.0 485.5,602.6 484.2,602.6" fill="#000"/>
<polygon points="485.2,595.0 486.8,595.0 487.2,602.8 485.5,602.8" fill="#000"/>
<polygon points="490.2,593.3 492.4,585.5 495.0,585.1 498.0,587.7 499.3,592.9 494.5,604.5 489.8,604.1" fill="#fff"/>
<polygon points="498.0,598.5 502.7,595.0 504.0,596.3 499.7,601.9" fill="#000"/>
<polygon points="494.1,605.0 496.3,601.1 497.1,601.5 495.4,605.6" fill="#000"/>
<polygon points="500.6,597.6 507.5,592.0 510.1,594.6 502.7,602.4" fill="#fff"/>
<polygon points="507.0,598.5 511.4,595.0 513.1,596.3 508.3,601.5" fill="#000"/>
<polygon points="509.6,599.8 512.6,596.3 518.7,595.0 524.7,602.4 517.0,610.1 514.8,608.0" fill="#fff"/></mask>
<g mask="url(#cm)"><polyline points="308.3,209.9 313.3,214.9 318.3,223.2 321.6,221.6 323.3,203.3 324.9,188.3 329.9,185.0 334.9,186.6 341.6,191.6 351.6,188.3 359.9,187.3 369.9,190.0 379.9,192.6 388.2,193.3 391.5,203.3 396.5,211.6 408.2,221.6 419.8,234.9 428.2,239.9 433.1,248.2 439.8,253.2 446.5,261.5 449.8,268.2 454.8,263.2 461.4,263.2 464.8,264.9 471.4,261.5 479.8,259.9 486.4,259.9 491.4,256.5 496.4,264.9 499.7,273.2 504.7,269.9 506.4,276.5 513.1,271.5 523.0,276.5 533.0,281.5 543.0,284.8 553.0,286.5 558.0,293.2" fill="none" stroke="#989898" stroke-width="1" stroke-linejoin="round" shape-rendering="crispEdges"/>
<polyline points="338.3,331.4 346.6,339.8 356.6,351.4 366.6,359.7 376.6,366.4 383.2,373.1 388.2,383.1 393.2,393.0 399.9,403.0 406.5,413.0 409.8,420.0" fill="none" stroke="#989898" stroke-width="1" stroke-linejoin="round" shape-rendering="crispEdges"/>
<polyline points="460.0,261.2 463.7,264.9 471.1,262.2 483.1,259.4 484.1,264.9 488.7,263.1 492.4,257.5 496.1,264.0 498.9,273.3 504.4,268.6 505.3,274.2 508.1,277.0 511.8,271.4 519.2,272.3 524.8,277.0 533.1,282.5 542.3,286.2 550.7,290.8 551.6,296.4 547.0,299.2 548.8,301.9 558.1,304.3 571.0,300.1 579.3,302.9 582.1,303.2 581.2,298.2 578.4,296.4 584.9,291.8 591.4,289.9" fill="none" stroke="#989898" stroke-width="1" stroke-linejoin="round" shape-rendering="crispEdges"/>
<polyline points="510.0,240.0 513.7,236.3 515.5,227.0 516.4,215.9 522.9,213.1 529.4,211.3 535.9,214.1 541.4,216.8 547.0,223.3 550.7,226.1 541.4,230.7 535.9,234.4 532.2,240.0 530.3,245.5 524.8,250.1 521.1,252.0 515.5,254.8 514.6,249.2 510.9,243.7 510.0,240.0" fill="none" stroke="#989898" stroke-width="1" stroke-linejoin="round" shape-rendering="crispEdges"/>
<polyline points="533.1,249.2 534.0,243.7 539.6,235.3 550.7,229.2 555.3,229.8 556.2,236.3 563.6,232.9 571.0,234.4 578.4,235.9 581.2,226.1 587.7,222.4 591.4,226.1 589.5,238.1 592.3,249.2 595.1,258.5 603.4,264.0 612.6,265.9 613.6,272.3 608.0,277.0" fill="none" stroke="#989898" stroke-width="1" stroke-linejoin="round" shape-rendering="crispEdges"/>
<polyline points="533.1,249.2 536.8,255.7 537.7,261.2 543.3,264.0 552.5,264.9 558.1,266.8 552.5,269.6 545.1,270.5 541.4,271.4 541.4,277.0 545.1,284.4 554.4,286.2 558.1,291.8 565.5,289.9 574.7,288.1 582.1,286.2" fill="none" stroke="#989898" stroke-width="1" stroke-linejoin="round" shape-rendering="crispEdges"/>
<polyline points="600.6,231.6 606.2,227.0 602.5,219.6 606.2,216.8 613.6,213.1 616.3,217.8 618.2,223.3 621.0,228.9 622.8,234.4 625.6,240.0 621.0,243.7 617.3,249.2 611.7,243.7 606.2,238.1 600.6,234.4" fill="none" stroke="#989898" stroke-width="1" stroke-linejoin="round" shape-rendering="crispEdges"/>
<polyline points="623.7,208.5 630.2,206.7 637.6,207.6 640.4,210.4 639.5,219.6 637.6,227.0 632.1,232.6 630.2,238.1 631.1,245.5 633.9,252.9 637.6,258.5 641.3,262.2 645.0,267.7 648.7,273.3 652.4,277.0" fill="none" stroke="#989898" stroke-width="1" stroke-linejoin="round" shape-rendering="crispEdges"/>
<polyline points="660.0,201.1 656.1,201.1 650.6,204.8 648.7,214.1 650.6,227.0 654.3,236.3 660.0,243.7" fill="none" stroke="#989898" stroke-width="1" stroke-linejoin="round" shape-rendering="crispEdges"/>
<polyline points="621.0,277.0 627.4,269.6 633.9,273.3 639.5,278.8 637.6,288.1 639.5,293.6 632.1,293.6 628.4,288.1 622.8,282.5" fill="none" stroke="#989898" stroke-width="1" stroke-linejoin="round" shape-rendering="crispEdges"/>
<polyline points="493.3,317.7 502.6,315.8 511.8,314.0 521.1,310.3 525.7,312.1 519.2,315.8 522.9,317.7 529.4,319.5 532.2,319.5 530.3,323.2 524.8,326.9 521.1,330.6 517.4,336.2 513.7,332.5 510.0,332.5 504.4,334.3 500.7,333.4 504.4,326.9 510.0,323.2 504.4,319.5 495.2,318.6" fill="none" stroke="#989898" stroke-width="1" stroke-linejoin="round" shape-rendering="crispEdges"/>
<polyline points="524.8,190.0 530.3,191.9 535.9,193.7 539.6,197.4 541.4,193.7 544.2,190.0" fill="none" stroke="#989898" stroke-width="1" stroke-linejoin="round" shape-rendering="crispEdges"/>
<polyline points="542.3,201.1 547.0,197.4 552.5,196.5 554.4,201.1 556.2,205.7 553.4,210.4 556.2,214.1 561.8,212.2 567.3,207.6 574.7,205.7 581.2,204.8 583.0,201.1 582.1,195.6 578.4,190.0" fill="none" stroke="#989898" stroke-width="1" stroke-linejoin="round" shape-rendering="crispEdges"/>
<polyline points="559.9,190.0 563.6,193.7 566.4,198.3 571.0,199.3 569.2,193.7 567.3,190.0" fill="none" stroke="#989898" stroke-width="1" stroke-linejoin="round" shape-rendering="crispEdges"/>
<polyline points="587.7,190.0 587.7,199.3 589.5,203.0 593.2,201.1 600.6,200.2 608.0,200.2 609.9,195.6 611.7,190.0" fill="none" stroke="#989898" stroke-width="1" stroke-linejoin="round" shape-rendering="crispEdges"/>
<polyline points="615.4,190.0 614.5,197.4 619.1,201.1 625.6,200.2 624.7,195.6 622.8,190.0" fill="none" stroke="#989898" stroke-width="1" stroke-linejoin="round" shape-rendering="crispEdges"/>
<polyline points="628.4,190.0 630.2,195.6 637.6,198.3 645.0,197.4 652.4,193.7 656.1,190.0" fill="none" stroke="#989898" stroke-width="1" stroke-linejoin="round" shape-rendering="crispEdges"/>
<polyline points="661.5,0.0 657.5,3.9 651.6,6.9 648.6,14.8 647.3,22.7 648.6,31.6 649.6,39.4 655.5,47.3 652.6,52.3 656.5,56.2 650.6,59.2 648.6,65.1 647.3,71.0 648.6,78.9 653.6,80.9 651.6,84.8 650.6,92.7 649.6,102.6 651.6,110.5 649.6,118.3 651.6,126.2 655.5,132.1 658.5,138.1 658.5,149.9 660.5,153.8 661.5,160.0" fill="none" stroke="#989898" stroke-width="1" stroke-linejoin="round" shape-rendering="crispEdges"/>
<polyline points="669.3,0.0 668.4,7.9 670.3,14.8 677.2,7.9 680.0,3.9" fill="none" stroke="#989898" stroke-width="1" stroke-linejoin="round" shape-rendering="crispEdges"/>
<polyline points="671.3,0.0 672.3,5.9 677.2,3.9" fill="none" stroke="#989898" stroke-width="1" stroke-linejoin="round" shape-rendering="crispEdges"/>
<polyline points="612.1,84.8 618.1,78.9 624.0,72.0 635.8,68.0 642.7,69.0 645.7,76.9 648.6,82.8" fill="none" stroke="#989898" stroke-width="1" stroke-linejoin="round" shape-rendering="crispEdges"/>
<polyline points="614.1,80.0 611.5,86.9 608.0,97.3 603.7,105.9 605.4,113.7 611.5,118.8 620.1,114.5 627.0,110.2 631.3,105.0 628.7,110.2 623.6,117.1 619.2,121.4 618.4,126.6 621.8,130.1 625.3,135.2 623.6,142.1 623.6,149.0 620.1,152.5 614.9,154.2 609.7,147.3 608.0,138.7 601.1,130.1 599.4,116.2 601.1,114.5" fill="none" stroke="#989898" stroke-width="1" stroke-linejoin="round" shape-rendering="crispEdges"/>
<polyline points="658.1,97.3 661.5,95.5 666.7,100.7 665.8,107.6 663.3,114.5 660.7,123.1 662.4,128.3 670.2,127.5 676.2,130.1 678.8,131.8 677.1,137.0 685.7,138.7 690.9,140.4 696.0,138.7 699.5,131.8" fill="none" stroke="#989898" stroke-width="1" stroke-linejoin="round" shape-rendering="crispEdges"/>
<polyline points="649.8,88.6 650.3,97.3 652.0,109.3 649.8,117.1 652.0,124.0 656.3,130.1 654.6,138.7 655.5,146.4 660.7,150.8 661.5,158.5 657.2,163.7 652.0,167.2 644.3,171.5 637.4,173.2 632.2,172.3 629.6,168.0 632.2,161.1 628.7,155.9 628.7,149.9 633.0,149.9 628.7,144.7 629.6,138.7 627.0,133.5 624.4,130.1 623.6,128.3" fill="none" stroke="#989898" stroke-width="1" stroke-linejoin="round" shape-rendering="crispEdges"/>
<polyline points="576.1,148.2 581.3,146.4 587.3,147.3 591.6,152.5 594.2,159.4 595.9,164.6 601.1,162.0 606.3,158.5 606.3,154.2 599.4,149.9 598.5,155.9 595.9,161.1 588.2,161.1 582.1,159.4 578.7,152.5 576.1,148.2" fill="none" stroke="#989898" stroke-width="1" stroke-linejoin="round" shape-rendering="crispEdges"/>
<polygon points="604.6,164.6 609.7,160.3 616.7,159.4 617.5,164.6 613.2,166.3 604.6,165.4" fill="none" stroke="#989898" stroke-width="1" stroke-linejoin="round" shape-rendering="crispEdges"/>
<polygon points="557.1,161.1 561.4,158.5 568.3,159.4 569.2,162.0 563.1,162.8" fill="none" stroke="#989898" stroke-width="1" stroke-linejoin="round" shape-rendering="crispEdges"/>
<polygon points="551.1,166.3 555.4,165.4 556.2,169.7 553.7,170.6" fill="none" stroke="#989898" stroke-width="1" stroke-linejoin="round" shape-rendering="crispEdges"/>
<polygon points="557.1,169.7 561.4,166.3 566.6,165.4 567.5,169.7 563.1,174.9 558.0,174.1" fill="none" stroke="#989898" stroke-width="1" stroke-linejoin="round" shape-rendering="crispEdges"/>
<polygon points="579.5,168.9 582.1,168.0 585.6,176.7 581.3,176.7" fill="none" stroke="#989898" stroke-width="1" stroke-linejoin="round" shape-rendering="crispEdges"/>
<polygon points="590.8,133.5 592.5,132.6 595.9,137.8 591.6,137.8" fill="none" stroke="#989898" stroke-width="1" stroke-linejoin="round" shape-rendering="crispEdges"/>
<polygon points="523.5,186.1 532.1,180.1 537.3,175.8 546.8,173.2 550.2,175.8 547.6,180.1 548.5,185.3 544.2,187.9 540.7,186.1 538.1,190.5 533.8,193.0 528.6,192.2 524.3,190.5" fill="none" stroke="#989898" stroke-width="1" stroke-linejoin="round" shape-rendering="crispEdges"/>
<polygon points="537.3,197.4 539.8,192.2 542.4,191.3 541.6,197.4" fill="none" stroke="#989898" stroke-width="1" stroke-linejoin="round" shape-rendering="crispEdges"/>
<polygon points="542.4,187.0 550.2,186.1 557.1,189.6 561.4,193.9 565.7,199.1 570.1,199.1 566.6,190.5 570.1,183.6 571.8,187.0 577.0,190.5 582.1,193.0 582.1,199.1 581.3,204.3 571.8,206.0 563.1,211.2 557.1,213.8 555.4,208.6 551.9,205.1 548.5,203.4 542.4,201.7 544.2,193.9" fill="none" stroke="#989898" stroke-width="1" stroke-linejoin="round" shape-rendering="crispEdges"/>
<polygon points="583.9,183.6 589.0,182.7 594.2,189.6 595.1,181.8 601.1,180.1 606.3,182.7 608.0,190.5 607.2,199.1 601.1,200.8 595.9,197.4 592.5,193.9 589.0,190.5" fill="none" stroke="#989898" stroke-width="1" stroke-linejoin="round" shape-rendering="crispEdges"/>
<polygon points="586.4,199.1 589.0,197.4 590.8,202.5 587.3,203.4" fill="none" stroke="#989898" stroke-width="1" stroke-linejoin="round" shape-rendering="crispEdges"/>
<polygon points="609.7,173.2 616.7,172.3 623.6,174.1 630.5,176.7 633.9,181.0 640.8,181.8 649.4,178.4 656.3,176.7 663.3,171.5 667.6,173.2 669.3,180.1 666.7,185.3 661.5,187.0 658.1,192.2 651.2,195.6 640.8,199.1 630.5,199.1 627.0,192.2 623.6,187.0 619.2,185.3 614.1,181.8 609.7,176.7" fill="none" stroke="#989898" stroke-width="1" stroke-linejoin="round" shape-rendering="crispEdges"/>
<polygon points="614.1,192.2 618.4,190.5 623.6,195.6 625.3,200.8 618.4,200.8 614.1,199.1" fill="none" stroke="#989898" stroke-width="1" stroke-linejoin="round" shape-rendering="crispEdges"/>
<polygon points="674.5,193.9 678.8,188.7 687.4,187.0 693.5,191.3 692.6,197.4 687.4,200.8 680.5,200.8 676.2,198.2" fill="none" stroke="#989898" stroke-width="1" stroke-linejoin="round" shape-rendering="crispEdges"/>
<polyline points="651.2,220.0 652.9,206.0 658.1,200.8 665.0,199.1 668.4,197.4" fill="none" stroke="#989898" stroke-width="1" stroke-linejoin="round" shape-rendering="crispEdges"/>
<polyline points="661.5,220.0 663.3,207.7 667.6,200.8 671.9,194.8" fill="none" stroke="#989898" stroke-width="1" stroke-linejoin="round" shape-rendering="crispEdges"/>
<polyline points="681.4,220.0 683.1,211.2 685.7,206.0 690.9,200.8 699.5,197.4" fill="none" stroke="#989898" stroke-width="1" stroke-linejoin="round" shape-rendering="crispEdges"/>
<polyline points="623.6,220.0 625.3,209.4 630.5,206.0 637.4,206.0 641.7,207.7 640.8,220.0" fill="none" stroke="#989898" stroke-width="1" stroke-linejoin="round" shape-rendering="crispEdges"/>
<polyline points="520.0,213.8 526.9,211.2 533.8,212.9 540.7,216.3 544.2,220.0" fill="none" stroke="#989898" stroke-width="1" stroke-linejoin="round" shape-rendering="crispEdges"/>
<polyline points="660.0,124.4 664.4,126.6 668.9,127.7 673.3,126.6 678.9,129.9 676.7,137.7 686.6,141.0 695.5,139.9 698.9,133.3 704.4,126.6 713.3,124.4 718.8,122.2 726.6,125.5 735.5,126.6 740.4,128.8" fill="none" stroke="#989898" stroke-width="1" stroke-linejoin="round" shape-rendering="crispEdges"/>
<polyline points="740.0,130.2 748.1,132.9 759.0,141.0 769.8,147.8 773.9,139.7 780.7,141.0 787.5,138.3 792.9,140.5 782.0,149.2 794.2,161.4 799.7,160.0 802.4,151.9 801.0,146.4 809.2,147.8 815.9,154.6 811.9,162.7 815.9,170.8 826.8,179.0 839.0,185.8 848.5,185.8 862.0,192.5 875.6,195.3 891.9,198.0 902.7,199.3 917.6,198.0 927.1,187.1 935.3,185.8 944.7,180.3 944.7,173.6 935.3,165.4 924.4,154.6 913.6,153.2 910.8,143.7 902.7,134.2 891.9,129.6 885.1,128.8 888.6,124.7 883.7,119.3 885.1,105.8 887.8,103.1 886.4,92.2 881.0,81.4 871.5,73.2 864.7,66.4 863.4,55.6 863.4,46.1 859.3,32.5 852.5,23.1 844.4,14.9 839.0,20.3 837.6,25.8 840.3,32.5 836.3,32.5 833.6,25.8 826.8,27.1 825.4,21.2 836.3,20.3 839.0,13.6 836.3,9.5 826.8,8.1 815.9,13.6 809.2,19.0 814.6,10.8 807.8,8.1 802.4,10.8 795.6,4.1 794.2,0.0" fill="none" stroke="#989898" stroke-width="1" stroke-linejoin="round" shape-rendering="crispEdges"/>
<polyline points="787.5,0.0 788.8,4.1 792.9,2.7" fill="none" stroke="#989898" stroke-width="1" stroke-linejoin="round" shape-rendering="crispEdges"/>
<polyline points="748.1,0.0 750.8,4.1 756.3,2.7" fill="none" stroke="#989898" stroke-width="1" stroke-linejoin="round" shape-rendering="crispEdges"/>
<polyline points="740.0,199.3 746.8,200.7 752.2,207.5 759.0,208.8 756.3,214.2 761.7,219.9" fill="none" stroke="#989898" stroke-width="1" stroke-linejoin="round" shape-rendering="crispEdges"/>
<polyline points="767.1,219.9 775.3,214.2 794.2,212.9 802.4,214.2 805.1,219.9" fill="none" stroke="#989898" stroke-width="1" stroke-linejoin="round" shape-rendering="crispEdges"/>
<polyline points="695.5,240.1 702.2,237.6 707.7,228.7 713.3,232.1 722.2,233.2 726.6,237.6 735.5,237.6 746.6,240.1" fill="none" stroke="#989898" stroke-width="1" stroke-linejoin="round" shape-rendering="crispEdges"/>
<polyline points="660.0,171.0 666.7,172.1 668.9,179.9 666.7,185.4 660.0,186.6" fill="none" stroke="#989898" stroke-width="1" stroke-linejoin="round" shape-rendering="crispEdges"/>
<polyline points="660.0,197.7 663.3,195.4 668.9,193.2 674.4,195.4 675.5,191.0 682.2,187.7 688.9,188.8 693.3,193.2 693.3,196.5 698.9,196.5 703.3,193.2 707.7,197.7 712.2,201.0 717.7,198.8 726.6,198.8 735.5,199.9 744.4,199.9 748.8,203.2 751.0,207.6 757.7,208.8 756.6,215.4 762.1,219.9 771.0,218.7 775.5,214.3 784.3,213.2 802.1,213.2 806.5,219.9 808.8,228.7 805.4,235.4 806.5,240.1" fill="none" stroke="#989898" stroke-width="1" stroke-linejoin="round" shape-rendering="crispEdges"/>
<polyline points="674.4,195.4 675.5,199.9 680.0,202.1 685.5,201.0 688.9,197.7" fill="none" stroke="#989898" stroke-width="1" stroke-linejoin="round" shape-rendering="crispEdges"/>
<polyline points="662.2,206.5 663.3,213.2 666.7,219.9 671.1,226.5 668.9,219.9 666.7,213.2 666.7,204.3 670.0,195.4" fill="none" stroke="#989898" stroke-width="1" stroke-linejoin="round" shape-rendering="crispEdges"/>
<polyline points="782.1,240.1 788.8,236.5 797.7,237.6 802.1,240.1" fill="none" stroke="#989898" stroke-width="1" stroke-linejoin="round" shape-rendering="crispEdges"/>
<polyline points="649.9,220.0 651.1,229.9 659.7,238.5 668.4,244.7 677.0,245.9 688.1,243.4 696.7,242.2 706.6,237.3 707.8,229.9 714.0,231.1 725.1,233.6 727.6,239.7 730.0,234.8 741.1,238.5 752.2,243.4 753.5,252.1 753.5,264.4 759.6,268.1 759.6,273.0 752.2,279.2 743.6,282.9 744.8,290.3 749.8,296.5 755.9,294.0 760.9,287.8 768.3,285.4 783.1,282.9 788.0,287.8 797.9,286.6 812.7,285.4 823.8,280.4 826.2,279.2 817.6,275.5 804.0,274.3 797.9,271.8 804.0,269.3 812.7,268.1 823.8,266.9 825.0,260.7 821.3,255.8 812.7,250.8 802.8,248.4 792.9,244.7 783.1,238.5 792.9,237.3 802.8,238.5 809.0,237.3 807.7,229.9 805.3,224.9 805.3,220.0" fill="none" stroke="#989898" stroke-width="1" stroke-linejoin="round" shape-rendering="crispEdges"/>
<polyline points="680.7,248.4 691.8,245.9 702.9,249.6 705.4,257.0 702.9,261.9 706.6,268.1 714.0,271.8 715.2,279.2 711.5,285.4 704.1,290.3 700.4,298.9 699.2,307.6 698.0,313.7 694.3,323.6 689.3,328.5 686.9,333.5 688.1,343.3 680.7,350.7 678.2,358.1 677.0,372.9 675.8,387.7 679.5,397.6 686.9,405.0 696.7,409.9 701.7,420.0" fill="none" stroke="#989898" stroke-width="1" stroke-linejoin="round" shape-rendering="crispEdges"/>
<polyline points="701.7,294.0 704.1,303.9 706.6,313.7 706.6,326.1 711.5,327.3 714.0,329.8 718.9,323.6 721.4,315.0 728.8,313.7 739.9,315.0 741.1,308.8 733.7,306.3 723.9,303.9 714.0,300.2 702.9,294.0" fill="none" stroke="#989898" stroke-width="1" stroke-linejoin="round" shape-rendering="crispEdges"/>
<polygon points="728.8,248.4 733.7,244.7 738.7,245.9 741.1,252.1 737.4,258.2 733.7,259.5 730.0,255.8" fill="none" stroke="#989898" stroke-width="1" stroke-linejoin="round" shape-rendering="crispEdges"/>
<polygon points="732.5,335.9 733.7,329.8 738.7,326.1 739.9,329.8 736.2,335.9" fill="none" stroke="#989898" stroke-width="1" stroke-linejoin="round" shape-rendering="crispEdges"/>
<polygon points="752.2,326.1 755.9,323.6 758.4,333.5 755.9,334.7" fill="none" stroke="#989898" stroke-width="1" stroke-linejoin="round" shape-rendering="crispEdges"/>
<polyline points="765.8,313.7 775.7,311.3 783.1,306.3 792.9,305.1 802.8,306.3 805.3,310.0 812.7,307.6 817.6,305.1 821.3,308.8 827.5,317.4 832.4,322.4 837.3,324.8 844.7,324.8 852.1,326.1 854.6,318.7 857.1,308.8 854.6,300.2 849.7,294.0 849.7,290.3 862.0,294.0 874.3,297.7 886.7,301.4 894.1,303.9 900.0,313.7" fill="none" stroke="#989898" stroke-width="1" stroke-linejoin="round" shape-rendering="crispEdges"/>
<polyline points="765.8,313.7 763.3,318.7 765.8,324.8 770.7,327.3 773.2,335.9 778.1,340.9 781.8,345.8 785.5,352.0 781.8,360.6 788.0,365.5 795.4,368.0 802.8,375.4 810.2,384.0 813.9,390.2 812.7,400.1 810.2,407.5 807.7,414.9 809.0,420.0" fill="none" stroke="#989898" stroke-width="1" stroke-linejoin="round" shape-rendering="crispEdges"/>
<polygon points="791.7,392.7 794.2,391.4 796.6,393.9 797.9,398.8 794.2,401.3" fill="none" stroke="#989898" stroke-width="1" stroke-linejoin="round" shape-rendering="crispEdges"/>
<polyline points="640.0,243.4 647.4,247.1 652.3,255.8 651.1,261.9 657.3,265.6 664.7,269.3" fill="none" stroke="#989898" stroke-width="1" stroke-linejoin="round" shape-rendering="crispEdges"/>
<polyline points="640.0,265.6 643.7,269.3 642.5,276.7 644.9,284.1" fill="none" stroke="#989898" stroke-width="1" stroke-linejoin="round" shape-rendering="crispEdges"/>
<polyline points="783.1,360.0 784.4,364.1 795.3,368.1 806.1,379.0 812.9,387.1 812.9,398.0 808.8,408.8 804.8,417.0 814.3,425.1 822.4,433.3 827.8,441.4 826.5,452.3 825.1,459.1 817.0,456.3 806.1,450.9 798.0,446.8 793.9,441.4 789.9,433.3 785.8,425.1 784.4,419.7 773.6,421.1 760.0,426.5" fill="none" stroke="#989898" stroke-width="1" stroke-linejoin="round" shape-rendering="crispEdges"/>
<polygon points="796.6,442.8 800.7,440.1 807.5,442.8 800.7,444.1" fill="none" stroke="#989898" stroke-width="1" stroke-linejoin="round" shape-rendering="crispEdges"/>
<polygon points="791.2,398.0 793.9,392.6 798.0,393.9 799.3,400.7 795.3,402.1" fill="none" stroke="#989898" stroke-width="1" stroke-linejoin="round" shape-rendering="crispEdges"/>
<polyline points="973.0,360.0 969.0,370.9 955.4,381.7 944.5,389.9 936.4,398.0 929.6,407.5 929.6,418.3 925.5,425.1 922.8,441.4 921.5,468.5" fill="none" stroke="#989898" stroke-width="1" stroke-linejoin="round" shape-rendering="crispEdges"/>
<polyline points="922.8,468.5 924.2,449.6 928.2,433.3 933.7,422.4 941.8,414.3 950.0,408.8 956.7,410.2 959.5,418.3 955.4,425.1 950.0,427.8 958.1,429.2 962.2,425.1 969.0,433.3 978.5,437.3 988.0,434.6 998.8,427.8 1004.2,422.4 1001.5,414.3 1000.2,406.1 1006.9,408.8 1015.1,410.2 1013.7,419.7 1011.0,427.8 1004.2,438.7 996.1,446.8 996.1,463.1 993.4,474.0 985.2,474.0 982.5,463.1 983.9,452.3 986.6,446.8 983.9,445.5 979.8,452.3 977.1,459.1 971.7,467.2" fill="none" stroke="#989898" stroke-width="1" stroke-linejoin="round" shape-rendering="crispEdges"/>
<polyline points="971.7,467.2 966.2,474.0 962.2,482.1 959.5,487.5 955.4,498.4 954.0,506.5 958.1,517.4 963.5,520.1 969.0,522.8 971.7,528.2 966.2,531.0 960.8,533.7 955.4,539.1 950.0,547.2 944.5,555.4 941.8,566.2 939.1,580.1" fill="none" stroke="#989898" stroke-width="1" stroke-linejoin="round" shape-rendering="crispEdges"/>
<polyline points="527.4,552.3 531.0,566.6 538.2,577.4 541.7,591.7 547.1,597.1 556.1,609.7 565.1,607.9 574.0,604.3" fill="none" stroke="#989898" stroke-width="1" stroke-linejoin="round" shape-rendering="crispEdges"/>
<polyline points="574.0,604.3 638.6,600.7 645.8,652.7 574.0,658.1 574.0,604.3" fill="none" stroke="#989898" stroke-width="1" stroke-linejoin="round" shape-rendering="crispEdges"/>
<polyline points="635.0,548.7 638.6,586.4 640.4,600.7" fill="none" stroke="#989898" stroke-width="1" stroke-linejoin="round" shape-rendering="crispEdges"/>
<polyline points="638.6,586.4 706.8,575.6" fill="none" stroke="#989898" stroke-width="1" stroke-linejoin="round" shape-rendering="crispEdges"/>
<polyline points="642.2,625.8 713.9,616.9" fill="none" stroke="#989898" stroke-width="1" stroke-linejoin="round" shape-rendering="crispEdges"/>
<polyline points="543.5,645.6 574.0,643.8" fill="none" stroke="#989898" stroke-width="1" stroke-linejoin="round" shape-rendering="crispEdges"/>
<polyline points="543.5,645.6 543.5,713.7" fill="none" stroke="#989898" stroke-width="1" stroke-linejoin="round" shape-rendering="crispEdges"/>
<polyline points="480.8,683.2 534.6,738.8 536.4,756.8" fill="none" stroke="#989898" stroke-width="1" stroke-linejoin="round" shape-rendering="crispEdges"/>
<polyline points="595.6,658.1 597.4,711.9" fill="none" stroke="#989898" stroke-width="1" stroke-linejoin="round" shape-rendering="crispEdges"/>
<polyline points="595.6,658.1 667.3,652.7 674.5,704.8" fill="none" stroke="#989898" stroke-width="1" stroke-linejoin="round" shape-rendering="crispEdges"/>
<polyline points="543.5,713.7 597.4,711.9 665.5,706.5" fill="none" stroke="#989898" stroke-width="1" stroke-linejoin="round" shape-rendering="crispEdges"/>
<polyline points="597.4,711.9 600.9,789.1" fill="none" stroke="#989898" stroke-width="1" stroke-linejoin="round" shape-rendering="crispEdges"/>
<polyline points="665.5,706.5 670.9,776.5 627.8,780.1" fill="none" stroke="#989898" stroke-width="1" stroke-linejoin="round" shape-rendering="crispEdges"/>
<polyline points="669.1,663.5 746.2,650.9" fill="none" stroke="#989898" stroke-width="1" stroke-linejoin="round" shape-rendering="crispEdges"/>
<polyline points="674.5,704.8 757.0,692.2" fill="none" stroke="#989898" stroke-width="1" stroke-linejoin="round" shape-rendering="crispEdges"/>
<polyline points="665.5,708.3 699.6,708.3 701.4,731.7 721.1,735.2 742.6,737.0 767.8,735.2" fill="none" stroke="#989898" stroke-width="1" stroke-linejoin="round" shape-rendering="crispEdges"/>
<polyline points="706.8,575.6 717.5,602.5 731.9,627.6 742.6,652.7 749.8,670.7 757.0,692.2 767.8,735.2 776.7,771.1 782.1,810.9" fill="none" stroke="#989898" stroke-width="1" stroke-linejoin="round" shape-rendering="crispEdges"/>
<polyline points="717.5,602.5 778.5,598.9" fill="none" stroke="#989898" stroke-width="1" stroke-linejoin="round" shape-rendering="crispEdges"/>
<polyline points="731.9,642.0 774.9,634.8" fill="none" stroke="#989898" stroke-width="1" stroke-linejoin="round" shape-rendering="crispEdges"/>
<polyline points="534.6,738.8 536.4,771.1 541.7,810.9" fill="none" stroke="#989898" stroke-width="1" stroke-linejoin="round" shape-rendering="crispEdges"/>
<polyline points="556.1,649.1 559.7,656.3 565.1,659.9" fill="none" stroke="#989898" stroke-width="1" stroke-linejoin="round" shape-rendering="crispEdges"/>
<polyline points="948.3,582.8 946.5,591.7 943.0,602.5 950.1,613.3 960.9,624.0 966.3,631.2 960.9,638.4 959.1,645.6 953.7,652.7 950.1,659.9 944.8,667.1 939.4,677.8 935.8,685.0 930.4,695.8 928.6,706.5 926.8,719.1 928.6,728.1 935.8,735.2 943.0,742.4 953.7,753.2 962.7,763.9 971.7,774.7 975.2,785.5 971.7,796.2 966.3,798.0 959.1,792.6 950.1,785.5 943.0,778.3 935.8,771.1 930.4,763.9 925.0,753.2 917.8,749.6 910.7,746.0 903.5,746.0 892.7,753.2 885.6,749.6 874.8,749.6 864.0,753.2 855.1,756.8 846.1,760.4 838.9,767.5 828.2,767.5 821.0,772.9 813.8,776.5 803.0,778.3 792.3,781.9 785.1,787.3 774.3,796.2 767.2,803.4 763.6,810.9" fill="none" stroke="#989898" stroke-width="1" stroke-linejoin="round" shape-rendering="crispEdges"/>
<polyline points="760.0,600.7 803.0,597.1 810.2,595.3 835.3,591.7 878.4,590.0 885.6,595.3 921.4,586.4 928.6,582.8" fill="none" stroke="#989898" stroke-width="1" stroke-linejoin="round" shape-rendering="crispEdges"/>
<polyline points="760.0,636.6 774.3,634.8 795.9,631.2" fill="none" stroke="#989898" stroke-width="1" stroke-linejoin="round" shape-rendering="crispEdges"/>
<polyline points="806.6,597.1 813.8,620.4 821.0,645.6 819.2,663.5 813.8,674.3 812.0,699.4 804.8,726.3 810.2,756.8 812.0,763.9" fill="none" stroke="#989898" stroke-width="1" stroke-linejoin="round" shape-rendering="crispEdges"/>
<polyline points="835.3,591.7 849.7,627.6 860.4,629.4 874.8,627.6 883.8,638.4 894.5,634.8 903.5,616.9 907.1,602.5 910.7,595.3" fill="none" stroke="#989898" stroke-width="1" stroke-linejoin="round" shape-rendering="crispEdges"/>
<polyline points="760.0,695.8 806.6,685.0 813.8,677.8 874.8,656.3 896.3,649.1 925.0,638.4 950.1,624.0" fill="none" stroke="#989898" stroke-width="1" stroke-linejoin="round" shape-rendering="crispEdges"/>
<polyline points="812.0,703.0 864.0,686.8 896.3,674.3 914.3,667.1 939.4,663.5 946.5,667.1" fill="none" stroke="#989898" stroke-width="1" stroke-linejoin="round" shape-rendering="crispEdges"/>
<polyline points="835.3,695.8 849.7,756.8" fill="none" stroke="#989898" stroke-width="1" stroke-linejoin="round" shape-rendering="crispEdges"/>
<polyline points="862.2,686.8 880.2,717.3 887.4,738.8" fill="none" stroke="#989898" stroke-width="1" stroke-linejoin="round" shape-rendering="crispEdges"/>
<polyline points="856.9,746.0 887.4,738.8 925.0,728.1" fill="none" stroke="#989898" stroke-width="1" stroke-linejoin="round" shape-rendering="crispEdges"/>
<polyline points="760.0,733.5 774.3,737.0 806.6,733.5" fill="none" stroke="#989898" stroke-width="1" stroke-linejoin="round" shape-rendering="crispEdges"/>
<polyline points="774.3,737.0 786.9,771.1 788.7,785.5" fill="none" stroke="#989898" stroke-width="1" stroke-linejoin="round" shape-rendering="crispEdges"/>
<polyline points="874.8,656.3 878.4,667.1 874.8,677.8" fill="none" stroke="#989898" stroke-width="1" stroke-linejoin="round" shape-rendering="crispEdges"/>
<polyline points="885.6,677.8 903.5,688.6 917.8,695.8 928.6,701.2" fill="none" stroke="#989898" stroke-width="1" stroke-linejoin="round" shape-rendering="crispEdges"/>
<polyline points="427.7,487.8 432.2,492.2 433.3,498.9 434.4,505.5 435.5,510.0 441.0,514.4 446.6,519.9 451.0,525.5 456.6,532.2 462.1,536.6 466.6,538.8 469.9,536.6 468.8,541.0 467.7,544.4" fill="none" stroke="#989898" stroke-width="1" stroke-linejoin="round" shape-rendering="crispEdges"/>
<polygon points="428.8,513.3 429.9,516.6 433.3,521.1 437.7,525.5 442.2,528.8 446.6,533.3 451.0,536.6 455.5,539.9 461.0,543.3 465.5,545.5 463.2,546.6 459.9,543.3 455.5,541.0 448.8,537.7 443.3,534.4 437.7,529.9 433.3,525.5 429.9,519.9 427.7,515.5" fill="none" stroke="#989898" stroke-width="1" stroke-linejoin="round" shape-rendering="crispEdges"/>
<polyline points="452.1,551.0 453.3,558.8 454.4,567.7 455.5,574.3 454.4,578.8 456.6,581.0 457.7,585.4 454.4,589.9 452.1,596.5 449.9,603.2" fill="none" stroke="#989898" stroke-width="1" stroke-linejoin="round" shape-rendering="crispEdges"/>
<polyline points="469.9,546.6 471.0,554.4 469.9,561.0 466.6,567.7 467.7,563.2 468.8,556.6" fill="none" stroke="#989898" stroke-width="1" stroke-linejoin="round" shape-rendering="crispEdges"/>
<polyline points="456.6,581.0 464.4,582.1 465.5,588.8 475.4,589.9 488.8,587.6 502.1,586.5 513.2,587.6 519.8,591.0" fill="none" stroke="#989898" stroke-width="1" stroke-linejoin="round" shape-rendering="crispEdges"/>
<polyline points="519.8,551.0 519.8,569.9 518.7,589.9" fill="none" stroke="#989898" stroke-width="1" stroke-linejoin="round" shape-rendering="crispEdges"/>
<polyline points="518.7,591.0 522.1,598.7 517.6,605.4 516.5,614.3 515.4,625.4 516.5,638.7" fill="none" stroke="#989898" stroke-width="1" stroke-linejoin="round" shape-rendering="crispEdges"/>
<polyline points="527.6,551.0 528.7,563.2 533.2,572.1 537.6,578.8 542.0,585.4 546.5,594.3 550.9,603.2 555.4,609.8 562.0,612.1 570.9,608.7 575.3,605.4 580.0,603.2" fill="none" stroke="#989898" stroke-width="1" stroke-linejoin="round" shape-rendering="crispEdges"/>
<polyline points="443.3,635.4 468.8,636.5 491.0,637.6 516.5,638.7 573.1,640.9 580.0,640.9" fill="none" stroke="#989898" stroke-width="1" stroke-linejoin="round" shape-rendering="crispEdges"/>
<polyline points="482.1,636.5 483.2,650.0" fill="none" stroke="#989898" stroke-width="1" stroke-linejoin="round" shape-rendering="crispEdges"/>
<polyline points="575.3,605.4 575.3,650.0" fill="none" stroke="#989898" stroke-width="1" stroke-linejoin="round" shape-rendering="crispEdges"/>
<polyline points="452.1,700.0 454.2,704.1 456.9,708.2 456.3,713.7 458.3,719.2 461.0,723.3 463.8,727.4 467.2,732.8 467.9,736.9 468.6,741.0 472.0,743.8 477.5,745.1 484.3,747.9 488.4,750.6 491.1,752.0 492.5,756.1 496.6,757.5 500.7,760.2 503.4,764.3 504.8,771.1 507.6,776.6 510.3,782.1 513.0,787.6 515.8,795.8 518.5,804.0 519.9,810.9" fill="none" stroke="#989898" stroke-width="1" stroke-linejoin="round" shape-rendering="crispEdges"/>
<polyline points="468.6,749.2 470.6,749.9 474.7,750.6 478.8,749.9" fill="none" stroke="#989898" stroke-width="1" stroke-linejoin="round" shape-rendering="crispEdges"/>
<polyline points="489.1,758.8 489.8,760.9 491.8,761.6" fill="none" stroke="#989898" stroke-width="1" stroke-linejoin="round" shape-rendering="crispEdges"/>
<polyline points="488.4,765.7 490.5,767.7 491.1,768.4" fill="none" stroke="#989898" stroke-width="1" stroke-linejoin="round" shape-rendering="crispEdges"/>
<polyline points="533.5,724.6 536.3,727.4 537.0,734.2 537.6,741.0 537.6,747.9" fill="none" stroke="#989898" stroke-width="1" stroke-linejoin="round" shape-rendering="crispEdges"/>
<polyline points="896.9,307.3 898.9,312.3 903.8,317.2 910.7,317.2 915.7,316.2 920.6,318.2 928.5,313.3 934.4,313.3 939.3,310.3 943.3,310.3 943.3,317.2 948.2,313.3 954.1,317.2 958.1,311.7 966.0,311.7 970.9,317.2 979.8,322.1 979.8,335.0 972.9,344.8 971.9,350.7 972.9,367.5 966.0,376.4 958.1,380.3 948.2,389.2 940.3,398.1 932.4,402.0 928.5,407.9 929.5,420.0" fill="none" stroke="#989898" stroke-width="1" stroke-linejoin="round" shape-rendering="crispEdges"/>
<polyline points="937.4,420.0 946.2,409.9 954.1,406.9 959.1,411.9 958.1,420.0" fill="none" stroke="#989898" stroke-width="1" stroke-linejoin="round" shape-rendering="crispEdges"/>
<polyline points="999.5,406.0 1004.4,406.0 1009.3,417.8" fill="none" stroke="#989898" stroke-width="1" stroke-linejoin="round" shape-rendering="crispEdges"/>
<polyline points="1009.3,409.9 1015.3,409.9 1014.3,420.0" fill="none" stroke="#989898" stroke-width="1" stroke-linejoin="round" shape-rendering="crispEdges"/>
<polyline points="849.6,290.6 849.6,299.4 854.5,302.4 855.5,309.3 854.5,318.2 851.6,326.1 843.7,323.1 838.7,325.1 832.8,322.1 827.9,315.2 820.0,307.3" fill="none" stroke="#989898" stroke-width="1" stroke-linejoin="round" shape-rendering="crispEdges"/>
<polyline points="703.7,424.0 709.7,418.0 716.7,418.0 723.6,418.8 732.2,419.7 740.8,424.0 749.4,424.9 758.1,425.7 763.3,426.6 770.2,423.1 777.1,421.4 784.0,420.6" fill="none" stroke="#989898" stroke-width="1" stroke-linejoin="round" shape-rendering="crispEdges"/>
<polyline points="627.8,438.7 632.1,424.9 636.4,430.1 633.8,435.2" fill="none" stroke="#989898" stroke-width="1" stroke-linejoin="round" shape-rendering="crispEdges"/>
<polygon points="792.6,393.8 796.0,391.2 797.8,395.5 794.3,401.6 792.6,400.7" fill="none" stroke="#989898" stroke-width="1" stroke-linejoin="round" shape-rendering="crispEdges"/>
<polyline points="650.0,489.0 655.0,488.0 660.0,491.5 663.0,487.0 666.5,480.0 671.5,477.0 675.5,478.5 677.5,482.0 676.5,487.0 673.0,492.0 676.0,497.0 680.0,505.0 676.0,510.0 670.0,508.0 665.0,503.0 662.0,496.0 658.0,492.0 650.0,489.0" fill="none" stroke="#989898" stroke-width="1" stroke-linejoin="round" shape-rendering="crispEdges"/>
<polyline points="763.9,527.2 766.1,521.7 769.4,513.9 776.1,512.8 781.6,512.2 785.0,512.8 788.3,516.1 792.7,518.3 795.0,517.8 799.4,517.2 802.7,518.3 803.8,522.2 806.1,525.0 808.3,528.3 811.6,531.1 814.9,533.3 817.2,535.0" fill="none" stroke="#989898" stroke-width="1" stroke-linejoin="round" shape-rendering="crispEdges"/>
<polyline points="766.1,548.3 771.7,541.6 777.2,533.9 779.4,532.2 777.2,537.2 776.6,541.6 778.3,543.3 782.8,541.6 787.2,543.3 790.5,542.7 793.9,540.5 797.2,538.3 801.6,536.1 806.1,532.8 809.4,531.6" fill="none" stroke="#989898" stroke-width="1" stroke-linejoin="round" shape-rendering="crispEdges"/>
<polyline points="790.5,569.4 791.6,566.1 793.3,560.5 794.4,553.8 795.0,550.5 798.3,547.2 802.7,545.0 807.2,543.3 811.6,541.6 815.5,540.5 819.4,538.9 823.8,537.7" fill="none" stroke="#989898" stroke-width="1" stroke-linejoin="round" shape-rendering="crispEdges"/>
<polyline points="796.1,553.8 796.6,560.5 796.1,567.2 796.6,573.8 798.3,582.7 799.4,589.4 800.5,595.0" fill="none" stroke="#989898" stroke-width="1" stroke-linejoin="round" shape-rendering="crispEdges"/>
<polyline points="807.2,547.2 806.1,557.2 807.2,562.7 808.3,571.6 811.6,580.5 814.9,587.1 817.2,595.0" fill="none" stroke="#989898" stroke-width="1" stroke-linejoin="round" shape-rendering="crispEdges"/>
<polyline points="812.7,553.8 812.2,549.4 813.8,546.1 817.2,543.9 821.6,543.3 827.2,543.9 830.5,546.1 832.7,549.4 833.3,555.0 832.7,559.4 833.8,563.8 834.9,567.2" fill="none" stroke="#989898" stroke-width="1" stroke-linejoin="round" shape-rendering="crispEdges"/>
<polyline points="823.8,536.1 830.5,532.8 834.9,530.5 840.5,528.9 846.0,526.6 850.5,527.2 854.9,528.9 859.4,532.2 862.7,535.0 864.3,537.2 862.7,539.4 859.4,540.5 854.9,540.5 850.5,538.9 847.1,538.3" fill="none" stroke="#989898" stroke-width="1" stroke-linejoin="round" shape-rendering="crispEdges"/>
<polyline points="847.1,538.3 850.5,541.6 851.0,547.2 852.1,551.6 852.7,558.3 852.7,564.9 851.6,569.4" fill="none" stroke="#989898" stroke-width="1" stroke-linejoin="round" shape-rendering="crispEdges"/>
<polyline points="834.9,567.2 837.1,562.7 840.5,559.4 843.8,560.5 847.1,562.7 849.4,565.5" fill="none" stroke="#989898" stroke-width="1" stroke-linejoin="round" shape-rendering="crispEdges"/>
<polyline points="849.4,582.7 852.7,578.3 857.1,576.0 861.6,571.6 866.0,567.2 870.5,563.8 875.0,561.6" fill="none" stroke="#989898" stroke-width="1" stroke-linejoin="round" shape-rendering="crispEdges"/>
<polyline points="755.0,552.7 766.1,553.8 777.2,554.4 783.9,553.8 788.3,558.3 791.6,567.2" fill="none" stroke="#989898" stroke-width="1" stroke-linejoin="round" shape-rendering="crispEdges"/>
<polyline points="840.0,527.3 845.2,526.4 850.4,526.4 857.3,529.0 862.4,534.2 863.3,539.4 859.0,541.1 853.8,539.4 850.4,537.7 846.9,539.4 843.5,541.1 840.0,539.4" fill="none" stroke="#989898" stroke-width="1" stroke-linejoin="round" shape-rendering="crispEdges"/>
<polyline points="872.8,554.1 874.5,548.0 879.7,544.6 886.6,541.1 891.8,536.8 897.0,534.2 899.5,532.5 903.0,534.2 901.3,537.7 897.0,541.1 888.3,546.3 881.4,551.5 878.0,556.7 874.5,561.8 865.9,568.7 860.7,575.6 855.5,580.8 850.4,584.3" fill="none" stroke="#989898" stroke-width="1" stroke-linejoin="round" shape-rendering="crispEdges"/>
<polyline points="879.7,570.5 891.8,563.6 905.6,556.7 915.9,551.5 922.0,549.4 928.0,553.2 931.5,554.1 941.0,554.1" fill="none" stroke="#989898" stroke-width="1" stroke-linejoin="round" shape-rendering="crispEdges"/>
<polyline points="918.5,503.1 922.8,510.1 928.0,517.0 934.1,527.3 939.2,537.7 943.6,546.3 944.4,553.2" fill="none" stroke="#989898" stroke-width="1" stroke-linejoin="round" shape-rendering="crispEdges"/>
<polyline points="934.9,498.8 934.1,504.9 936.7,511.8 941.8,523.9 952.2,518.7 954.8,515.2" fill="none" stroke="#989898" stroke-width="1" stroke-linejoin="round" shape-rendering="crispEdges"/>
<polyline points="935.8,529.0 957.4,528.2" fill="none" stroke="#989898" stroke-width="1" stroke-linejoin="round" shape-rendering="crispEdges"/>
<polyline points="939.2,538.5 959.1,529.0" fill="none" stroke="#989898" stroke-width="1" stroke-linejoin="round" shape-rendering="crispEdges"/>
<polyline points="933.2,489.3 943.6,496.2 950.5,504.9 953.9,510.1" fill="none" stroke="#989898" stroke-width="1" stroke-linejoin="round" shape-rendering="crispEdges"/>
<polyline points="972.0,467.8 967.7,473.8 964.3,480.7 960.8,485.9 957.4,494.5 954.8,501.4 954.8,510.1 959.1,517.0 960.8,523.9 966.0,522.1 971.2,520.4 972.9,527.3 967.7,529.0 962.5,530.8 959.1,535.9 955.6,541.1 950.5,546.3 945.3,551.5 943.6,556.7 943.6,560.1 947.0,563.6 948.7,572.2 947.0,577.4 945.3,584.3 943.6,591.2 941.8,600.0" fill="none" stroke="#989898" stroke-width="1" stroke-linejoin="round" shape-rendering="crispEdges"/>
<polyline points="930.6,554.1 932.3,563.6 936.7,568.7 938.4,573.9 934.9,580.8 929.7,584.3 928.0,591.2 931.5,598.1" fill="none" stroke="#989898" stroke-width="1" stroke-linejoin="round" shape-rendering="crispEdges"/>
<polyline points="874.5,572.2 879.7,584.3 884.9,600.0" fill="none" stroke="#989898" stroke-width="1" stroke-linejoin="round" shape-rendering="crispEdges"/>
<polyline points="983.3,460.0 982.4,466.9 986.7,472.1 991.9,474.7 995.3,472.1 997.1,466.9 996.2,460.0" fill="none" stroke="#989898" stroke-width="1" stroke-linejoin="round" shape-rendering="crispEdges"/>
<polyline points="921.1,468.6 924.6,465.2 926.3,460.0" fill="none" stroke="#989898" stroke-width="1" stroke-linejoin="round" shape-rendering="crispEdges"/>
<polyline points="452.5,594.8 449.9,600.0 444.7,615.6 442.1,628.6 438.2,654.6 440.8,672.8 446.0,685.8 452.5,693.7 453.8,704.1 457.7,714.5 465.5,730.1 468.1,741.8 479.8,747.0 490.2,750.9 498.0,756.1 503.2,763.9 505.8,773.0" fill="none" stroke="#989898" stroke-width="1" stroke-linejoin="round" shape-rendering="crispEdges"/>
<polyline points="483.7,640.3 482.4,662.4 481.1,680.6 482.4,682.7" fill="none" stroke="#989898" stroke-width="1" stroke-linejoin="round" shape-rendering="crispEdges"/>
<polyline points="555.3,649.4 559.2,650.7 561.8,655.9 564.4,659.8 561.8,662.4 557.9,658.5 555.3,649.4" fill="none" stroke="#989898" stroke-width="1" stroke-linejoin="round" shape-rendering="crispEdges"/>
<polyline points="531.9,786.0 537.1,793.8 542.3,802.9" fill="none" stroke="#989898" stroke-width="1" stroke-linejoin="round" shape-rendering="crispEdges"/>
<polyline points="534.5,787.3 547.5,787.3 552.7,797.7 555.3,811.0" fill="none" stroke="#989898" stroke-width="1" stroke-linejoin="round" shape-rendering="crispEdges"/>
<polyline points="469.4,749.6 475.9,750.4 479.8,749.6" fill="none" stroke="#989898" stroke-width="1" stroke-linejoin="round" shape-rendering="crispEdges"/>
<polyline points="488.9,758.7 491.5,763.9 490.2,767.8" fill="none" stroke="#989898" stroke-width="1" stroke-linejoin="round" shape-rendering="crispEdges"/>
<polyline points="531.1,389.9 538.5,392.7 544.1,388.1 544.1,381.6 547.8,380.7 542.2,374.2 547.8,374.2 551.5,377.0 557.0,378.8 562.6,375.1 570.0,369.6 581.1,369.6 575.5,373.3 568.1,377.0 564.4,382.5 560.7,386.2 553.3,389.0 551.5,390.8 542.2,394.5 533.0,392.7 531.1,389.9" fill="none" stroke="#989898" stroke-width="1" stroke-linejoin="round" shape-rendering="crispEdges"/>
<polyline points="569.0,423.2 571.8,419.5 577.4,412.1 581.1,409.3 584.8,412.1 594.0,414.0 591.2,417.7 582.9,417.7 575.5,423.2 569.0,423.2" fill="none" stroke="#989898" stroke-width="1" stroke-linejoin="round" shape-rendering="crispEdges"/></g>
<polyline points="129.0,177.0 134.0,173.5 138.9,170.1 143.9,166.8 149.0,163.4 154.0,160.2 159.1,157.0 164.3,153.8 169.4,150.7 174.6,147.7 179.8,144.7 185.1,141.7 190.4,138.8 195.7,136.0 201.0,133.2 206.4,130.5 211.8,127.8 217.2,125.2 222.7,122.6 228.1,120.1 233.6,117.7 239.2,115.3 244.7,112.9 250.3,110.7 255.9,108.4 261.5,106.3 267.2,104.1 272.8,102.1 278.5,100.1 284.2,98.2 289.9,96.3 295.7,94.5 301.4,92.7 307.2,91.0 313.0,89.4 318.8,87.8 324.6,86.3 330.5,84.8 336.3,83.4 342.2,82.0 348.1,80.8 354.0,79.5 359.9,78.4 365.8,77.3 371.8,76.2 377.7,75.2 383.7,74.3 389.6,73.5 395.6,72.6 401.6,71.9 407.5,71.2 413.5,70.6 419.5,70.1 425.5,69.6 431.5,69.1 437.6,68.8 443.6,68.4 449.6,68.2 455.6,68.0 461.6,67.9 467.7,67.8 473.7,67.8 479.7,67.9 485.7,68.0 491.7,68.2 497.8,68.4 503.8,68.7 509.8,69.1 515.8,69.5 521.8,70.0 527.8,70.5 533.8,71.1 539.8,71.8 545.8,72.5 551.7,73.3 557.7,74.2 563.7,75.1 569.6,76.1 575.5,77.1 581.5,78.2 587.4,79.4 593.3,80.6 599.1,81.9 605.0,83.2 610.9,84.6 616.7,86.0 622.6,87.6 628.4,89.1 634.2,90.8 639.9,92.5 645.7,94.2 651.5,96.0 657.2,97.9 662.9,99.8 668.6,101.8 674.2,103.9 679.9,106.0 685.5,108.1 691.1,110.3 696.7,112.6 702.2,114.9 707.8,117.3 713.3,119.8 718.8,122.3 724.2,124.8 729.6,127.4 735.0,130.1 740.4,132.8 745.8,135.6 751.1,138.4 756.4,141.3 761.6,144.2 766.9,147.2 772.0,150.3 777.2,153.4 782.3,156.5 787.5,159.7 792.5,163.0 797.6,166.3 802.6,169.6 807.5,173.0 812.5,176.5 817.4,180.0 822.2,183.6 827.0,187.2 831.8,190.8 836.6,194.5 841.3,198.3 846.0,202.1 850.6,205.9 855.2,209.8 859.7,213.8 864.2,217.8 868.7,221.8 873.2,225.9 877.5,230.0 881.9,234.2 886.2,238.4 890.5,242.7 894.7,247.0 898.8,251.3 903.0,255.7 907.1,260.1 911.1,264.6 915.1,269.1 919.0,273.6 922.9,278.2 926.8,282.9 930.6,287.5 934.3,292.2 938.1,297.0 941.7,301.8 945.3,306.6 948.9,311.4 952.4,316.3 955.9,321.3 959.3,326.2 962.6,331.2 965.9,336.3 969.2,341.3 972.4,346.4 975.6,351.6 978.7,356.7 981.7,361.9 984.7,367.1 987.7,372.4 990.5,377.7 993.4,383.0 996.2,388.3 998.9,393.7 1001.6,399.1 1004.2,404.5 1006.7,410.0 1009.2,415.5 1011.7,421.0 1014.1,426.5 1016.4,432.1 1018.7,437.6 1020.9,443.2 1023.1,448.8 1025.2,454.5 1027.2,460.2 1029.2,465.8 1031.1,471.5 1033.0,477.3 1034.8,483.0 1036.6,488.8 1038.3,494.6 1039.9,500.4 1041.5,506.2 1043.0,512.0 1044.5,517.8 1045.9,523.7 1047.2,529.6 1048.5,535.4 1049.7,541.3 1050.9,547.3 1052.0,553.2 1053.0,559.1 1054.0,565.1 1054.9,571.0" fill="none" stroke="#5e5e5e" stroke-width="1" shape-rendering="crispEdges"/>
<polyline points="129.4,177.5 210.4,279.2 226.7,299.6 370.0,486.7 385.9,508.1 438.5,575.6 465.0,607.3 473.9,619.4" fill="none" stroke="#5e5e5e" stroke-width="1" shape-rendering="crispEdges"/>
<polyline points="473.9,619.4 479.8,615.2 484.5,609.5 488.7,603.4 492.6,595.0 499.4,580.0 504.3,568.1 509.5,554.8 512.7,540.0 520.0,523.2 538.5,480.0 571.5,400.0 585.6,360.0 607.4,300.0 620.6,260.0 639.1,200.0 652.5,150.0 665.3,100.7" fill="none" stroke="#5e5e5e" stroke-width="1" shape-rendering="crispEdges"/>
<polyline points="492.6,619.7 493.4,613.7 494.6,606.8 500.0,592.0 505.3,580.0 511.7,564.7 519.0,552.0 526.5,540.0 530.2,530.0 550.5,480.6 588.3,400.0 607.8,360.0 637.3,300.0 658.7,260.0 692.1,200.0 719.6,154.0 734.4,130.3" fill="none" stroke="#5e5e5e" stroke-width="1" shape-rendering="crispEdges"/>
<polyline points="479.8,615.2 486.0,615.2 490.0,617.0 492.6,619.7 493.4,628.5 505.0,626.2 560.0,621.4 620.0,616.3 700.0,607.5 748.0,602.4 870.0,588.5 930.0,582.1 1020.0,574.2 1054.8,570.5" fill="none" stroke="#5e5e5e" stroke-width="1" shape-rendering="crispEdges"/>
<circle cx="483" cy="624" r="3" fill="#6a6a6a"/>
<rect x="1120" y="0" width="4" height="811" fill="#ffffff"/>
<rect x="1119" y="0" width="1" height="811" fill="#787878"/>
<text x="5.2" y="15.7" font-size="19.3" fill="#000">January, 20 2022</text>
<text x="5.6" y="31.7" font-size="19.1" fill="#000">0106:00 UT</text>
<text x="1013.6" y="19.8" font-size="17.7" fill="#000">Velocity (m/s)</text>
<defs><linearGradient id="g0" x1="0" y1="0" x2="0" y2="1"><stop offset="0" stop-color="#c8ecff"/><stop offset="1" stop-color="#78c8ff"/></linearGradient><linearGradient id="g1" x1="0" y1="0" x2="0" y2="1"><stop offset="0" stop-color="#1ea0ff"/><stop offset="1" stop-color="#068af4"/></linearGradient><linearGradient id="g2" x1="0" y1="0" x2="0" y2="1"><stop offset="0" stop-color="#0a78f0"/><stop offset="1" stop-color="#0862d6"/></linearGradient><linearGradient id="g3" x1="0" y1="0" x2="0" y2="1"><stop offset="0" stop-color="#0850cc"/><stop offset="1" stop-color="#0630a6"/></linearGradient><linearGradient id="g4" x1="0" y1="0" x2="0" y2="1"><stop offset="0" stop-color="#001c98"/><stop offset="1" stop-color="#000078"/></linearGradient><linearGradient id="g5" x1="0" y1="0" x2="0" y2="1"><stop offset="0" stop-color="#780000"/><stop offset="1" stop-color="#9c0000"/></linearGradient><linearGradient id="g6" x1="0" y1="0" x2="0" y2="1"><stop offset="0" stop-color="#b00000"/><stop offset="1" stop-color="#c81c00"/></linearGradient><linearGradient id="g7" x1="0" y1="0" x2="0" y2="1"><stop offset="0" stop-color="#d83800"/><stop offset="1" stop-color="#f06800"/></linearGradient><linearGradient id="g8" x1="0" y1="0" x2="0" y2="1"><stop offset="0" stop-color="#ff8000"/><stop offset="1" stop-color="#ff9a24"/></linearGradient><linearGradient id="g9" x1="0" y1="0" x2="0" y2="1"><stop offset="0" stop-color="#ffb060"/><stop offset="1" stop-color="#fff0d8"/></linearGradient></defs>
<rect x="1057" y="44" width="18" height="272" fill="#000"/>
<rect x="1058" y="45" width="16" height="26" fill="url(#g0)"/>
<rect x="1058" y="72" width="16" height="26" fill="url(#g1)"/>
<rect x="1058" y="99" width="16" height="26" fill="url(#g2)"/>
<rect x="1058" y="126" width="16" height="26" fill="url(#g3)"/>
<rect x="1058" y="153" width="16" height="24" fill="url(#g4)"/>
<rect x="1058" y="183" width="16" height="24" fill="url(#g5)"/>
<rect x="1058" y="208" width="16" height="26" fill="url(#g6)"/>
<rect x="1058" y="235" width="16" height="26" fill="url(#g7)"/>
<rect x="1058" y="262" width="16" height="26" fill="url(#g8)"/>
<rect x="1058" y="289" width="16" height="26" fill="url(#g9)"/>
<rect x="1058" y="177" width="16" height="3" fill="#d8d8d8"/>
<rect x="1058" y="181" width="16" height="2" fill="#d8d8d8"/>
<text x="1049" y="44.8" font-size="14" text-anchor="end" fill="#000">500</text>
<text x="1049" y="71.6" font-size="14" text-anchor="end" fill="#000">400</text>
<text x="1049" y="98.5" font-size="14" text-anchor="end" fill="#000">300</text>
<text x="1049" y="125.4" font-size="14" text-anchor="end" fill="#000">200</text>
<text x="1049" y="152.3" font-size="14" text-anchor="end" fill="#000">100</text>
<text x="1049" y="180.0" font-size="14" text-anchor="end" fill="#000">0</text>
<text x="1049" y="207.6" font-size="14" text-anchor="end" fill="#000">-100</text>
<text x="1049" y="234.6" font-size="14" text-anchor="end" fill="#000">-200</text>
<text x="1049" y="261.5" font-size="14" text-anchor="end" fill="#000">-300</text>
<text x="1049" y="288.0" font-size="14" text-anchor="end" fill="#000">-400</text>
<text x="1049" y="314.8" font-size="14" text-anchor="end" fill="#000">-500</text>
<text x="1083.5" y="56.8" font-size="14" fill="#000">toward</text>
<text x="1083.7" y="314.8" font-size="14" fill="#000">away</text>
<text x="1083.6" y="176.7" font-size="14" fill="#000">10</text>
<text x="1083.6" y="193.8" font-size="14" fill="#000">-10</text>
<text x="155.9" y="564.75" font-size="18.5" text-anchor="middle" fill="#000">Frequency</text>
<text x="129.4" y="582.8" font-size="17" text-anchor="middle" fill="#000">cvw</text>
<text x="181.4" y="582.8" font-size="17" text-anchor="middle" fill="#000">cve</text>
<rect x="117" y="715" width="24" height="4" fill="#ff3800"/>
<rect x="170" y="717" width="23" height="4" fill="#ff3800"/>
<rect x="120.5" y="589.5" width="17" height="170" fill="none" stroke="#000" stroke-width="1"/>
<line x1="120.5" y1="606.5" x2="137.5" y2="606.5" stroke="#000" stroke-width="1"/>
<line x1="120.5" y1="623.5" x2="137.5" y2="623.5" stroke="#000" stroke-width="1"/>
<line x1="120.5" y1="640.5" x2="137.5" y2="640.5" stroke="#000" stroke-width="1"/>
<line x1="120.5" y1="657.5" x2="137.5" y2="657.5" stroke="#000" stroke-width="1"/>
<line x1="120.5" y1="674.5" x2="137.5" y2="674.5" stroke="#000" stroke-width="1"/>
<line x1="120.5" y1="691.5" x2="137.5" y2="691.5" stroke="#000" stroke-width="1"/>
<line x1="120.5" y1="708.5" x2="137.5" y2="708.5" stroke="#000" stroke-width="1"/>
<line x1="120.5" y1="725.5" x2="137.5" y2="725.5" stroke="#000" stroke-width="1"/>
<line x1="120.5" y1="742.5" x2="137.5" y2="742.5" stroke="#000" stroke-width="1"/>
<rect x="172.5" y="589.5" width="17" height="170" fill="none" stroke="#000" stroke-width="1"/>
<line x1="172.5" y1="606.5" x2="189.5" y2="606.5" stroke="#000" stroke-width="1"/>
<line x1="172.5" y1="623.5" x2="189.5" y2="623.5" stroke="#000" stroke-width="1"/>
<line x1="172.5" y1="640.5" x2="189.5" y2="640.5" stroke="#000" stroke-width="1"/>
<line x1="172.5" y1="657.5" x2="189.5" y2="657.5" stroke="#000" stroke-width="1"/>
<line x1="172.5" y1="674.5" x2="189.5" y2="674.5" stroke="#000" stroke-width="1"/>
<line x1="172.5" y1="691.5" x2="189.5" y2="691.5" stroke="#000" stroke-width="1"/>
<line x1="172.5" y1="708.5" x2="189.5" y2="708.5" stroke="#000" stroke-width="1"/>
<line x1="172.5" y1="725.5" x2="189.5" y2="725.5" stroke="#000" stroke-width="1"/>
<line x1="172.5" y1="742.5" x2="189.5" y2="742.5" stroke="#000" stroke-width="1"/>
<text x="112" y="596.6" font-size="13.5" text-anchor="end" fill="#000">18</text>
<text x="198.5" y="596.6" font-size="13.5" fill="#000">18</text>
<text x="112" y="613.6" font-size="13.5" text-anchor="end" fill="#000">17</text>
<text x="198.5" y="613.6" font-size="13.5" fill="#000">17</text>
<text x="112" y="630.6" font-size="13.5" text-anchor="end" fill="#000">16</text>
<text x="198.5" y="630.6" font-size="13.5" fill="#000">16</text>
<text x="112" y="647.6" font-size="13.5" text-anchor="end" fill="#000">15</text>
<text x="198.5" y="647.6" font-size="13.5" fill="#000">15</text>
<text x="112" y="664.6" font-size="13.5" text-anchor="end" fill="#000">14</text>
<text x="198.5" y="664.6" font-size="13.5" fill="#000">14</text>
<text x="112" y="681.6" font-size="13.5" text-anchor="end" fill="#000">13</text>
<text x="198.5" y="681.6" font-size="13.5" fill="#000">13</text>
<text x="112" y="698.6" font-size="13.5" text-anchor="end" fill="#000">12</text>
<text x="198.5" y="698.6" font-size="13.5" fill="#000">12</text>
<text x="112" y="715.6" font-size="13.5" text-anchor="end" fill="#000">11</text>
<text x="198.5" y="715.6" font-size="13.5" fill="#000">11</text>
<text x="112" y="732.6" font-size="13.5" text-anchor="end" fill="#000">10</text>
<text x="198.5" y="732.6" font-size="13.5" fill="#000">10</text>
<text x="112" y="749.6" font-size="13.5" text-anchor="end" fill="#000">9</text>
<text x="198.5" y="749.6" font-size="13.5" fill="#000">9</text>
<text x="112" y="766.6" font-size="13.5" text-anchor="end" fill="#000">8</text>
<text x="198.5" y="766.6" font-size="13.5" fill="#000">8</text>
<text x="451.4" y="646.6" font-size="13" fill="#000">cvw</text>
<text x="491.5" y="646.6" font-size="13" fill="#000">cve</text>
</svg>
</body></html>
